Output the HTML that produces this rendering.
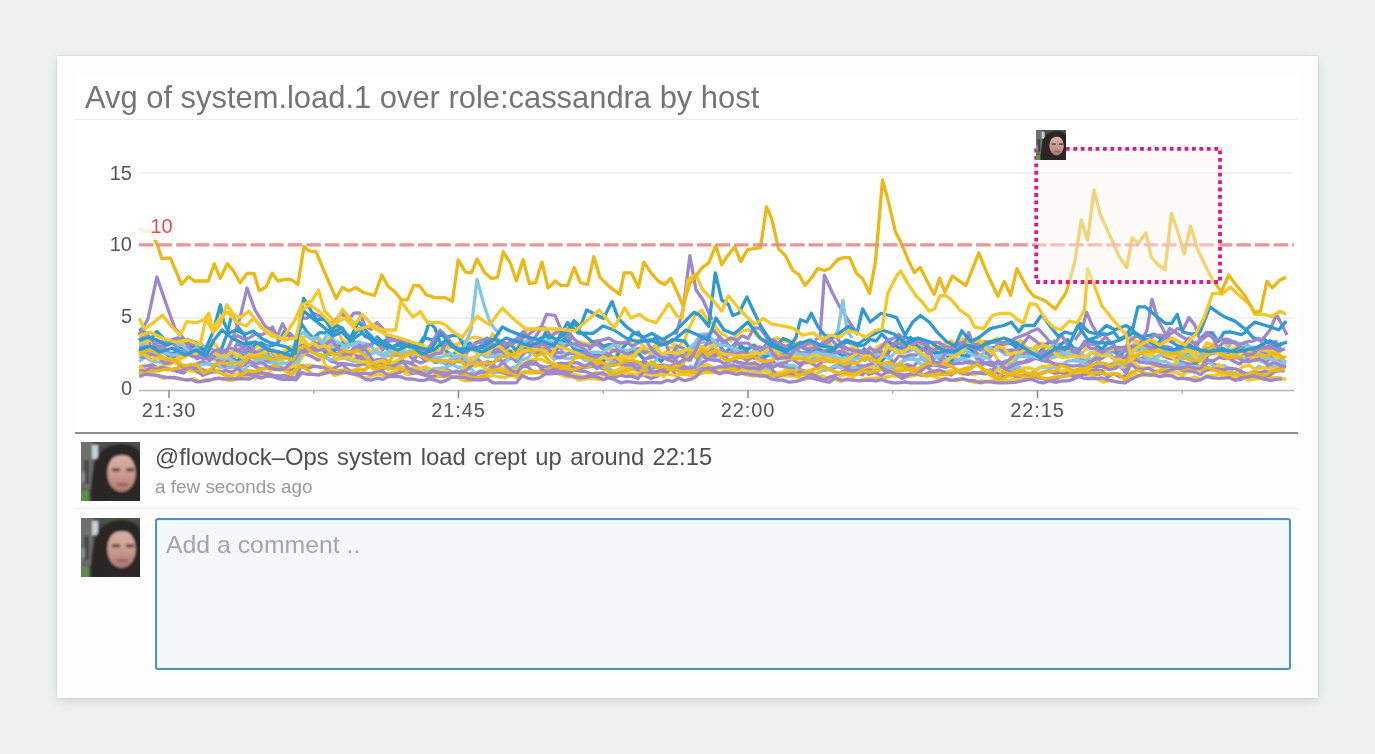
<!DOCTYPE html>
<html><head><meta charset="utf-8">
<style>
html,body{margin:0;padding:0;}
body{width:1375px;height:754px;background:#eff1f0;position:relative;overflow:hidden;font-family:"Liberation Sans",sans-serif;}
.card{position:absolute;left:57px;top:56px;width:1260.5px;height:641.5px;background:#fdfdfd;box-shadow:0 3px 10px rgba(0,0,0,0.11),0 0 2px rgba(0,0,0,0.15);}
.panel{position:absolute;left:75px;top:73px;width:1223px;height:360px;background:#fff;}
.title{position:absolute;left:85px;top:79.5px;font-size:30.9px;line-height:36px;color:#757575;white-space:nowrap;}
.hr1{position:absolute;left:75px;top:119px;width:1223px;height:1px;background:#ebebeb;}
.hr2{position:absolute;left:75px;top:432.3px;width:1223px;height:1.4px;background:#8e8e8e;}
.hr3{position:absolute;left:75px;top:508.2px;width:1223px;height:1.2px;background:#ebebeb;}
.chart{position:absolute;left:0;top:0;}
.av{position:absolute;width:59px;height:59px;}
.c1{position:absolute;left:155px;top:443px;font-size:23.8px;word-spacing:1.75px;line-height:28px;color:#505050;white-space:nowrap;}
.c2{position:absolute;left:155px;top:476px;font-size:18.9px;line-height:22px;color:#9a9a9a;white-space:nowrap;}
.ta{position:absolute;left:155.3px;top:517.5px;width:1131.4px;height:148.2px;border:2px solid #5093bf;border-radius:3px;background:#f4f8fb;box-shadow:inset 0 0 0 1px #e2f2fa;}
.ph{position:absolute;left:166px;top:531px;font-size:24.8px;line-height:28px;color:#a5a5a5;white-space:nowrap;}
.yl{font-size:20px;fill:#555;font-family:"Liberation Sans",sans-serif;}
.wrap{position:absolute;left:0;top:0;width:1375px;height:754px;filter:url(#soft);}
</style></head><body><svg width="0" height="0" style="position:absolute"><filter id="soft" x="0" y="0" width="100%" height="100%"><feGaussianBlur stdDeviation="0.55"/></filter></svg><div class="wrap">
<div class="card"></div>
<div class="panel"></div>
<div class="title">Avg of system.load.1 over role:cassandra by host</div>
<div class="hr1"></div>
<svg class="chart" width="1375" height="754">
<g stroke="#ececec" stroke-width="1.6">
<line x1="139" y1="173" x2="1294" y2="173"/>
<line x1="139" y1="318" x2="1294" y2="318"/>
</g>
<line x1="139" y1="390.5" x2="1294" y2="390.5" stroke="#b5b5b5" stroke-width="1.5"/>
<g stroke="#8a8a8a" stroke-width="1.5">
<line x1="169" y1="390" x2="169" y2="398"/>
<line x1="458.5" y1="390" x2="458.5" y2="398"/>
<line x1="748" y1="390" x2="748" y2="398"/>
<line x1="1037.5" y1="390" x2="1037.5" y2="398"/>
</g>
<g stroke="#a8a8a8" stroke-width="1.4">
<line x1="313.7" y1="390" x2="313.7" y2="393.5"/>
<line x1="603.2" y1="390" x2="603.2" y2="393.5"/>
<line x1="892.7" y1="390" x2="892.7" y2="393.5"/>
<line x1="1182.2" y1="390" x2="1182.2" y2="393.5"/>
</g>
<g class="yl" text-anchor="end">
<text x="132" y="180">15</text>
<text x="132" y="251">10</text>
<text x="132" y="323">5</text>
<text x="132" y="395">0</text>
</g>
<g class="yl" text-anchor="middle" letter-spacing="0.9">
<text x="169" y="417">21:30</text>
<text x="458.5" y="417">21:45</text>
<text x="748" y="417">22:00</text>
<text x="1037.5" y="417">22:15</text>
</g>
<polyline points="139.1,366.8 145.5,366.0 151.9,364.8 158.3,367.7 164.7,368.0 171.1,369.4 177.5,371.6 183.9,373.1 190.3,367.7 196.7,363.7 203.1,361.6 209.5,364.7 215.9,365.2 222.3,367.4 228.7,367.4 235.1,366.6 241.5,366.3 247.9,362.7 254.3,366.4 260.7,369.0 267.1,368.0 273.5,369.3 279.9,367.4 286.3,369.1 292.7,367.1 299.1,354.1 305.5,353.9 311.9,356.5 318.3,360.2 324.7,356.4 331.1,361.1 337.5,363.3 343.9,363.6 350.3,364.6 356.7,365.9 363.1,363.9 369.5,365.0 375.9,367.0 382.3,368.6 388.7,368.1 395.1,368.4 401.5,362.4 407.9,362.2 414.3,365.4 420.7,369.7 427.1,368.4 433.5,371.7 439.9,370.7 446.3,369.3 452.7,372.3 459.1,372.9 465.5,375.9 471.9,373.3 478.3,373.0 484.7,372.4 491.1,367.2 497.5,371.4 503.9,370.6 510.3,369.3 516.7,371.1 523.1,365.5 529.5,364.2 535.9,363.9 542.3,366.7 548.7,367.1 555.1,364.2 561.5,363.2 567.9,364.6 574.3,368.0 580.7,368.3 587.1,367.2 593.5,366.2 599.9,367.7 606.3,369.6 612.7,370.9 619.1,373.2 625.5,371.7 631.9,375.3 638.3,374.5 644.7,375.7 651.1,378.5 657.5,375.9 663.9,371.4 670.3,369.6 676.7,369.5 683.1,370.3 689.5,370.7 695.9,373.3 702.3,362.5 708.7,359.0 715.1,356.2 721.5,353.1 727.9,359.9 734.3,365.5 740.7,366.9 747.1,365.7 753.5,363.3 759.9,365.5 766.3,363.2 772.7,361.4 779.1,365.9 785.5,367.0 791.9,369.3 798.3,369.2 804.7,371.1 811.1,370.4 817.5,367.5 823.9,370.3 830.3,369.0 836.7,366.9 843.1,364.4 849.5,367.4 855.9,369.4 862.3,368.1 868.7,374.5 875.1,372.5 881.5,368.4 887.9,366.1 894.3,369.3 900.7,370.2 907.1,365.7 913.5,369.3 919.9,368.6 926.3,366.7 932.7,371.3 939.1,371.6 945.5,372.4 951.9,372.1 958.3,371.1 964.7,373.5 971.1,373.4 977.5,373.1 983.9,373.7 990.3,369.8 996.7,372.7 1003.1,376.5 1009.5,375.6 1015.9,367.0 1022.3,369.7 1028.7,376.5 1035.1,375.8 1041.5,373.1 1047.9,370.7 1054.3,373.3 1060.7,372.3 1067.1,374.3 1073.5,373.7 1079.9,370.8 1086.3,374.8 1092.7,373.8 1099.1,374.3 1105.5,367.3 1111.9,364.0 1118.3,362.8 1124.7,371.7 1131.1,361.4 1137.5,360.1 1143.9,357.2 1150.3,362.4 1156.7,363.2 1163.1,365.5 1169.5,365.4 1175.9,365.0 1182.3,367.0 1188.7,371.7 1195.1,368.1 1201.5,369.7 1207.9,361.4 1214.3,364.2 1220.7,367.5 1227.1,372.2 1233.5,375.3 1239.9,379.8 1246.3,377.7 1252.7,376.9 1259.1,372.5 1265.5,371.3 1271.9,372.8 1278.3,370.6 1284.7,370.8" fill="none" stroke="#9e88ca" stroke-width="3.3" stroke-linejoin="round"/>
<polyline points="139.1,352.3 145.5,348.4 151.9,341.0 158.3,346.9 164.7,346.4 171.1,343.6 177.5,341.0 183.9,340.6 190.3,351.1 196.7,353.6 203.1,358.9 209.5,358.2 215.9,359.8 222.3,361.3 228.7,359.6 235.1,354.4 241.5,358.7 247.9,357.0 254.3,351.4 260.7,356.4 267.1,354.0 273.5,360.2 279.9,369.4 286.3,369.6 292.7,369.9 299.1,353.5 305.5,353.2 311.9,347.8 318.3,345.6 324.7,347.9 331.1,350.0 337.5,349.0 343.9,354.0 350.3,351.2 356.7,355.9 363.1,356.5 369.5,354.1 375.9,351.7 382.3,355.5 388.7,355.6 395.1,355.2 401.5,355.0 407.9,354.0 414.3,360.5 420.7,362.9 427.1,360.2 433.5,356.8 439.9,360.7 446.3,364.2 452.7,356.6 459.1,361.4 465.5,362.8 471.9,358.0 478.3,359.5 484.7,365.6 491.1,363.4 497.5,368.0 503.9,361.1 510.3,358.4 516.7,355.1 523.1,347.5 529.5,352.2 535.9,352.7 542.3,352.5 548.7,350.3 555.1,352.9 561.5,352.1 567.9,354.3 574.3,350.0 580.7,351.5 587.1,351.0 593.5,354.0 599.9,353.8 606.3,355.2 612.7,360.1 619.1,357.9 625.5,361.6 631.9,362.6 638.3,363.1 644.7,362.3 651.1,368.8 657.5,366.0 663.9,365.0 670.3,366.7 676.7,376.3 683.1,371.1 689.5,375.2 695.9,371.8 702.3,352.1 708.7,357.5 715.1,354.5 721.5,354.2 727.9,355.6 734.3,350.2 740.7,356.6 747.1,360.7 753.5,356.6 759.9,356.8 766.3,360.5 772.7,366.5 779.1,364.8 785.5,363.8 791.9,368.5 798.3,368.1 804.7,361.6 811.1,358.0 817.5,357.5 823.9,354.9 830.3,355.0 836.7,361.3 843.1,364.5 849.5,371.8 855.9,372.8 862.3,375.0 868.7,368.5 875.1,369.7 881.5,369.4 887.9,372.1 894.3,365.5 900.7,366.5 907.1,364.7 913.5,366.6 919.9,358.6 926.3,359.2 932.7,364.3 939.1,365.8 945.5,367.4 951.9,364.9 958.3,360.9 964.7,356.1 971.1,350.1 977.5,359.6 983.9,363.7 990.3,363.8 996.7,364.0 1003.1,363.4 1009.5,362.9 1015.9,365.2 1022.3,362.8 1028.7,361.6 1035.1,358.3 1041.5,360.3 1047.9,361.7 1054.3,353.6 1060.7,346.3 1067.1,351.0 1073.5,355.1 1079.9,358.7 1086.3,364.5 1092.7,367.8 1099.1,359.9 1105.5,355.3 1111.9,351.3 1118.3,354.4 1124.7,358.5 1131.1,348.9 1137.5,348.0 1143.9,344.2 1150.3,345.5 1156.7,347.9 1163.1,355.9 1169.5,358.6 1175.9,359.0 1182.3,362.4 1188.7,363.7 1195.1,364.1 1201.5,367.7 1207.9,354.4 1214.3,353.3 1220.7,354.2 1227.1,356.9 1233.5,361.2 1239.9,363.9 1246.3,358.6 1252.7,357.7 1259.1,360.1 1265.5,362.2 1271.9,357.3 1278.3,359.7 1284.7,362.8" fill="none" stroke="#9e88ca" stroke-width="3.3" stroke-linejoin="round"/>
<polyline points="139.1,361.6 144.9,357.2 150.7,360.6 156.5,361.8 162.3,362.3 168.1,360.3 173.9,362.0 179.7,364.9 185.5,366.3 191.3,370.5 197.1,365.8 202.9,364.2 208.7,364.1 214.5,364.2 220.3,366.9 226.1,368.1 231.9,365.5 237.7,368.3 243.5,370.2 249.3,364.6 255.1,360.8 260.9,361.8 266.7,361.9 272.5,362.9 278.3,360.0 284.1,363.4 289.9,364.3 295.7,363.7 301.5,347.4 307.3,350.6 313.1,351.7 318.9,354.7 324.7,357.4 330.5,359.5 336.3,359.0 342.1,356.4 347.9,359.4 353.7,361.4 359.5,362.4 365.3,361.0 371.1,359.2 376.9,363.8 382.7,362.5 388.5,365.7 394.3,363.1 400.1,366.4 405.9,369.2 411.7,370.2 417.5,369.2 423.3,371.4 429.1,369.6 434.9,368.6 440.7,368.3 446.5,367.1 452.3,364.6 458.1,367.5 463.9,367.3 469.7,367.4 475.5,373.3 481.3,370.3 487.1,371.6 492.9,372.3 498.7,372.0 504.5,370.3 510.3,368.4 516.1,366.6 521.9,359.9 527.7,357.9 533.5,351.6 539.3,345.1 545.1,352.2 550.9,354.7 556.7,358.2 562.5,357.5 568.3,358.9 574.1,357.0 579.9,352.7 585.7,355.0 591.5,362.6 597.3,358.5 603.1,362.4 608.9,367.6 614.7,374.3 620.5,371.0 626.3,366.9 632.1,364.3 637.9,366.2 643.7,362.3 649.5,364.0 655.3,366.6 661.1,366.6 666.9,366.1 672.7,366.3 678.5,365.4 684.3,372.2 690.1,366.1 695.9,368.1 701.7,356.0 707.5,359.3 713.3,359.0 719.1,360.0 724.9,365.0 730.7,363.0 736.5,361.0 742.3,364.9 748.1,370.7 753.9,370.7 759.7,371.5 765.5,369.5 771.3,368.7 777.1,363.5 782.9,363.0 788.7,365.4 794.5,365.5 800.3,374.3 806.1,374.8 811.9,375.1 817.7,373.1 823.5,370.3 829.3,368.8 835.1,365.5 840.9,368.0 846.7,366.9 852.5,367.3 858.3,367.2 864.1,366.2 869.9,367.3 875.7,366.6 881.5,366.9 887.3,364.0 893.1,365.2 898.9,364.9 904.7,358.1 910.5,359.0 916.3,359.9 922.1,359.0 927.9,364.3 933.7,363.1 939.5,362.1 945.3,362.4 951.1,361.0 956.9,360.5 962.7,359.1 968.5,363.3 974.3,363.2 980.1,366.0 985.9,362.7 991.7,363.6 997.5,368.4 1003.3,367.7 1009.1,370.4 1014.9,366.6 1020.7,367.7 1026.5,373.9 1032.3,372.9 1038.1,368.2 1043.9,366.9 1049.7,368.8 1055.5,366.4 1061.3,365.0 1067.1,361.4 1072.9,360.5 1078.7,361.4 1084.5,365.4 1090.3,365.1 1096.1,364.8 1101.9,365.5 1107.7,364.7 1113.5,368.9 1119.3,366.7 1125.1,366.8 1130.9,357.2 1136.7,358.6 1142.5,360.4 1148.3,360.2 1154.1,358.8 1159.9,361.2 1165.7,361.3 1171.5,364.7 1177.3,363.9 1183.1,364.7 1188.9,369.2 1194.7,365.5 1200.5,369.0 1206.3,360.5 1212.1,364.7 1217.9,369.1 1223.7,365.5 1229.5,369.2 1235.3,373.9 1241.1,372.1 1246.9,374.8 1252.7,373.2 1258.5,366.4 1264.3,368.2 1270.1,366.9 1275.9,365.4 1281.7,365.2" fill="none" stroke="#85c5e6" stroke-width="3.3" stroke-linejoin="round"/>
<polyline points="139.1,365.7 145.2,369.8 151.3,368.1 157.4,367.7 163.5,365.9 169.6,364.5 175.7,361.2 181.8,368.8 187.9,370.4 194.0,371.4 200.1,373.3 206.2,371.0 212.3,370.8 218.4,369.9 224.5,374.3 230.6,375.5 236.7,373.8 242.8,373.7 248.9,374.1 255.0,372.9 261.1,372.6 267.2,374.6 273.3,368.2 279.4,370.4 285.5,368.2 291.6,366.8 297.7,364.7 303.8,354.4 309.9,348.8 316.0,354.2 322.1,358.4 328.2,369.5 334.3,375.5 340.4,373.8 346.5,372.3 352.6,370.9 358.7,368.2 364.8,370.3 370.9,361.5 377.0,360.5 383.1,358.7 389.2,360.5 395.3,368.5 401.4,367.7 407.5,369.4 413.6,367.9 419.7,368.5 425.8,366.8 431.9,370.1 438.0,371.1 444.1,370.5 450.2,372.3 456.3,372.7 462.4,369.9 468.5,364.1 474.6,366.3 480.7,364.8 486.8,369.3 492.9,370.6 499.0,369.2 505.1,367.6 511.2,371.0 517.3,368.7 523.4,363.6 529.5,360.4 535.6,359.2 541.7,359.6 547.8,362.7 553.9,363.1 560.0,366.6 566.1,369.0 572.2,373.8 578.3,375.6 584.4,376.9 590.5,374.5 596.6,372.4 602.7,375.1 608.8,373.5 614.9,371.0 621.0,367.9 627.1,368.7 633.2,368.3 639.3,369.7 645.4,366.9 651.5,372.0 657.6,370.5 663.7,376.7 669.8,369.6 675.9,366.8 682.0,373.5 688.1,373.7 694.2,376.4 700.3,373.7 706.4,372.2 712.5,372.6 718.6,367.6 724.7,368.6 730.8,371.1 736.9,370.1 743.0,368.0 749.1,365.6 755.2,364.8 761.3,370.1 767.4,372.1 773.5,371.7 779.6,373.4 785.7,370.2 791.8,371.1 797.9,370.8 804.0,371.4 810.1,370.6 816.2,374.5 822.3,366.9 828.4,369.3 834.5,371.3 840.6,375.8 846.7,374.1 852.8,376.6 858.9,373.5 865.0,368.8 871.1,367.2 877.2,369.1 883.3,365.5 889.4,367.2 895.5,368.0 901.6,368.2 907.7,369.9 913.8,368.5 919.9,372.3 926.0,376.4 932.1,370.9 938.2,372.5 944.3,372.5 950.4,370.6 956.5,371.6 962.6,374.2 968.7,373.3 974.8,374.8 980.9,371.6 987.0,372.2 993.1,372.1 999.2,369.0 1005.3,373.5 1011.4,376.5 1017.5,372.3 1023.6,367.8 1029.7,368.0 1035.8,370.4 1041.9,366.6 1048.0,365.9 1054.1,364.0 1060.2,370.8 1066.3,370.7 1072.4,373.2 1078.5,375.2 1084.6,371.8 1090.7,369.0 1096.8,370.4 1102.9,370.8 1109.0,366.4 1115.1,365.4 1121.2,366.9 1127.3,366.2 1133.4,362.2 1139.5,367.0 1145.6,368.3 1151.7,367.1 1157.8,365.4 1163.9,369.5 1170.0,371.4 1176.1,372.3 1182.2,375.6 1188.3,370.6 1194.4,369.1 1200.5,365.7 1206.6,368.8 1212.7,370.4 1218.8,364.2 1224.9,369.2 1231.0,374.0 1237.1,371.7 1243.2,366.3 1249.3,365.4 1255.4,369.4 1261.5,368.0 1267.6,367.4 1273.7,367.2 1279.8,366.7 1285.9,365.2" fill="none" stroke="#f3c829" stroke-width="3.3" stroke-linejoin="round"/>
<polyline points="139.4,342.7 145.5,342.4 151.6,350.6 157.7,341.4 163.8,348.8 169.9,356.9 176.0,362.8 182.1,358.1 188.2,355.3 194.3,352.2 200.4,351.6 206.5,351.0 212.6,340.7 218.7,349.0 224.8,357.9 230.9,354.9 237.0,352.4 243.1,356.5 249.2,356.6 255.3,351.6 261.4,348.4 267.5,354.2 273.6,349.6 279.7,361.1 285.8,358.5 291.9,355.5 298.0,355.4 304.1,340.2 310.2,347.0 316.3,346.1 322.4,343.1 328.5,346.9 334.6,345.5 340.7,345.9 346.8,354.7 352.9,354.5 359.0,349.8 365.1,355.2 371.2,352.9 377.3,350.3 383.4,355.0 389.5,354.4 395.6,349.6 401.7,347.2 407.8,352.5 413.9,348.3 420.0,348.3 426.1,349.4 432.2,344.8 438.3,344.9 444.4,346.1 450.5,344.5 456.6,344.5 462.7,342.1 468.8,338.7 474.9,337.0 481.0,338.5 487.1,342.2 493.2,346.7 499.3,348.5 505.4,350.4 511.5,350.9 517.6,355.4 523.7,342.2 529.8,342.9 535.9,347.8 542.0,346.4 548.1,348.0 554.2,348.1 560.3,346.0 566.4,336.2 572.5,344.4 578.6,344.5 584.7,343.5 590.8,344.1 596.9,340.5 603.0,345.7 609.1,349.2 615.2,350.5 621.3,357.0 627.4,351.8 633.5,357.4 639.6,354.0 645.7,349.1 651.8,353.7 657.9,354.3 664.0,354.9 670.1,347.5 676.2,348.3 682.3,356.8 688.4,351.5 694.5,347.9 700.6,346.6 706.7,357.0 712.8,343.1 718.9,343.8 725.0,353.3 731.1,347.5 737.2,342.1 743.3,353.9 749.4,347.6 755.5,345.8 761.6,347.6 767.7,351.9 773.8,350.7 779.9,354.9 786.0,354.2 792.1,355.3 798.2,356.5 804.3,353.4 810.4,349.5 816.5,347.1 822.6,347.2 828.7,342.3 834.8,350.7 840.9,351.2 847.0,351.1 853.1,346.9 859.2,357.9 865.3,358.3 871.4,358.1 877.5,355.9 883.6,346.1 889.7,347.3 895.8,349.5 901.9,349.0 908.0,346.3 914.1,349.2 920.2,343.7 926.3,351.5 932.4,347.0 938.5,346.1 944.6,344.3 950.7,340.8 956.8,345.5 962.9,346.2 969.0,347.3 975.1,351.6 981.2,355.2 987.3,357.8 993.4,353.0 999.5,362.3 1005.6,364.8 1011.7,361.1 1017.8,353.5 1023.9,353.9 1030.0,348.7 1036.1,350.3 1042.2,353.4 1048.3,359.7 1054.4,357.0 1060.5,349.0 1066.6,349.9 1072.7,355.1 1078.8,352.3 1084.9,358.1 1091.0,361.3 1097.1,354.4 1103.2,352.5 1109.3,348.8 1115.4,349.2 1121.5,351.0 1127.6,351.0 1133.7,343.9 1139.8,340.6 1145.9,348.0 1152.0,355.8 1158.1,357.4 1164.2,351.7 1170.3,353.7 1176.4,362.5 1182.5,348.2 1188.6,353.6 1194.7,354.7 1200.8,352.5 1206.9,342.9 1213.0,345.1 1219.1,352.5 1225.2,349.5 1231.3,353.8 1237.4,353.8 1243.5,350.3 1249.6,352.7 1255.7,360.4 1261.8,361.2 1267.9,356.7 1274.0,352.8 1280.1,358.2 1286.2,356.6" fill="none" stroke="#f3c829" stroke-width="3.3" stroke-linejoin="round"/>
<polyline points="139.1,344.5 144.9,341.3 150.7,340.1 156.5,346.0 162.3,344.3 168.1,342.9 173.9,343.8 179.7,343.6 185.5,344.6 191.3,342.8 197.1,342.7 202.9,351.0 208.7,357.8 214.5,359.7 220.3,349.0 226.1,352.9 231.9,356.0 237.7,356.7 243.5,350.7 249.3,352.2 255.1,347.5 260.9,344.2 266.7,347.4 272.5,353.1 278.3,354.4 284.1,358.0 289.9,350.6 295.7,349.0 301.5,338.8 307.3,335.0 313.1,340.7 318.9,337.5 324.7,343.9 330.5,336.9 336.3,327.1 342.1,339.9 347.9,343.2 353.7,346.0 359.5,345.2 365.3,347.7 371.1,351.4 376.9,349.6 382.7,341.9 388.5,351.7 394.3,351.1 400.1,352.4 405.9,353.5 411.7,349.2 417.5,352.0 423.3,349.6 429.1,346.4 434.9,349.7 440.7,352.4 446.5,355.3 452.3,357.7 458.1,350.4 463.9,346.1 469.7,348.0 475.5,351.6 481.3,353.6 487.1,343.7 492.9,333.8 498.7,341.0 504.5,346.6 510.3,351.3 516.1,350.8 521.9,337.1 527.7,328.8 533.5,329.8 539.3,328.7 545.1,328.8 550.9,334.4 556.7,332.2 562.5,335.0 568.3,342.3 574.1,344.8 579.9,341.8 585.7,343.7 591.5,344.1 597.3,342.1 603.1,346.6 608.9,347.8 614.7,350.1 620.5,344.0 626.3,343.9 632.1,341.0 637.9,340.1 643.7,346.7 649.5,353.9 655.3,351.5 661.1,343.6 666.9,340.8 672.7,343.7 678.5,346.9 684.3,339.9 690.1,326.1 695.9,314.1 701.7,310.4 707.5,319.6 713.3,323.9 719.1,331.5 724.9,335.2 730.7,341.1 736.5,335.3 742.3,330.8 748.1,329.9 753.9,331.7 759.7,338.4 765.5,341.9 771.3,339.7 777.1,337.7 782.9,341.0 788.7,342.0 794.5,343.2 800.3,342.7 806.1,343.8 811.9,345.9 817.7,357.4 823.5,358.5 829.3,352.7 835.1,347.1 840.9,345.4 846.7,341.1 852.5,345.1 858.3,349.8 864.1,354.5 869.9,354.4 875.7,348.7 881.5,344.7 887.3,343.7 893.1,343.4 898.9,341.9 904.7,345.1 910.5,347.2 916.3,351.0 922.1,355.4 927.9,354.7 933.7,351.2 939.5,351.8 945.3,346.2 951.1,346.1 956.9,347.8 962.7,338.8 968.5,349.8 974.3,345.0 980.1,341.1 985.9,341.9 991.7,341.1 997.5,338.1 1003.3,345.7 1009.1,343.0 1014.9,342.8 1020.7,340.5 1026.5,347.6 1032.3,349.6 1038.1,343.9 1043.9,343.3 1049.7,350.5 1055.5,349.8 1061.3,346.6 1067.1,350.3 1072.9,353.0 1078.7,357.1 1084.5,350.5 1090.3,344.9 1096.1,342.4 1101.9,354.3 1107.7,349.5 1113.5,348.5 1119.3,353.0 1125.1,351.1 1130.9,337.4 1136.7,342.8 1142.5,347.9 1148.3,346.6 1154.1,340.8 1159.9,345.3 1165.7,352.2 1171.5,353.9 1177.3,351.3 1183.1,345.5 1188.9,350.4 1194.7,351.7 1200.5,356.2 1206.3,348.0 1212.1,347.3 1217.9,340.4 1223.7,340.6 1229.5,350.1 1235.3,347.8 1241.1,343.6 1246.9,348.4 1252.7,353.0 1258.5,355.4 1264.3,350.3 1270.1,348.4 1275.9,351.8 1281.7,351.2" fill="none" stroke="#f3c829" stroke-width="3.3" stroke-linejoin="round"/>
<polyline points="139.4,328.6 145.2,332.3 151.0,338.7 156.8,331.4 162.6,337.4 168.4,343.3 174.2,339.8 180.0,347.1 185.8,350.5 191.6,342.6 197.4,350.9 203.2,349.8 209.0,355.1 214.8,357.8 220.6,351.3 226.4,335.7 232.2,313.8 238.0,326.8 243.8,334.5 249.6,350.7 255.4,343.7 261.2,342.8 267.0,346.0 272.8,345.6 278.6,342.0 284.4,331.2 290.2,333.5 296.0,339.9 301.8,324.1 307.6,332.8 313.4,338.2 319.2,332.7 325.0,333.0 330.8,330.2 336.6,325.3 342.4,328.4 348.2,337.8 354.0,341.7 359.8,345.8 365.6,344.0 371.4,345.5 377.2,336.9 383.0,342.6 388.8,337.9 394.6,339.0 400.4,345.3 406.2,345.4 412.0,346.6 417.8,346.7 423.6,337.5 429.4,339.1 435.2,340.1 441.0,334.3 446.8,337.0 452.6,335.6 458.4,335.5 464.2,346.3 470.0,343.0 475.8,349.4 481.6,347.5 487.4,338.8 493.2,339.6 499.0,340.8 504.8,348.7 510.6,344.6 516.4,350.5 522.2,341.3 528.0,349.1 533.8,346.6 539.6,344.9 545.4,332.8 551.2,344.2 557.0,342.6 562.8,340.5 568.6,334.6 574.4,321.8 580.2,332.1 586.0,336.4 591.8,341.7 597.6,342.1 603.4,346.4 609.2,344.3 615.0,345.3 620.8,350.1 626.6,343.3 632.4,334.4 638.2,332.2 644.0,340.7 649.8,341.2 655.6,338.0 661.4,344.9 667.2,343.7 673.0,339.3 678.8,340.4 684.6,341.2 690.4,349.7 696.2,344.0 702.0,339.1 707.8,337.8 713.6,347.2 719.4,337.6 725.2,342.2 731.0,347.5 736.8,342.1 742.6,347.2 748.4,353.8 754.2,351.7 760.0,354.2 765.8,349.8 771.6,344.6 777.4,345.0 783.2,338.5 789.0,340.8 794.8,345.4 800.6,354.2 806.4,353.5 812.2,352.6 818.0,349.0 823.8,351.5 829.6,352.5 835.4,348.1 841.2,344.4 847.0,342.2 852.8,343.2 858.6,345.9 864.4,344.9 870.2,339.3 876.0,341.0 881.8,334.0 887.6,339.8 893.4,346.5 899.2,336.9 905.0,337.3 910.8,338.6 916.6,339.1 922.4,341.1 928.2,348.7 934.0,352.5 939.8,358.8 945.6,353.7 951.4,361.2 957.2,353.5 963.0,355.6 968.8,356.3 974.6,350.8 980.4,345.0 986.2,353.3 992.0,347.9 997.8,346.8 1003.6,342.6 1009.4,342.9 1015.2,345.4 1021.0,348.7 1026.8,348.6 1032.6,350.9 1038.4,354.7 1044.2,345.8 1050.0,341.6 1055.8,346.3 1061.6,343.9 1067.4,339.5 1073.2,347.7 1079.0,349.7 1084.8,342.0 1090.6,339.1 1096.4,337.2 1102.2,334.0 1108.0,334.3 1113.8,332.0 1119.6,339.5 1125.4,336.0 1131.2,328.1 1137.0,336.3 1142.8,336.4 1148.6,335.5 1154.4,334.2 1160.2,338.3 1166.0,339.2 1171.8,342.1 1177.6,345.9 1183.4,346.3 1189.2,344.3 1195.0,348.6 1200.8,338.1 1206.6,332.6 1212.4,332.8 1218.2,341.6 1224.0,332.5 1229.8,331.9 1235.6,333.2 1241.4,334.7 1247.2,331.1 1253.0,337.6 1258.8,339.9 1264.6,339.5 1270.4,344.6 1276.2,346.9 1282.0,351.3" fill="none" stroke="#2e9ad0" stroke-width="3.3" stroke-linejoin="round"/>
<polyline points="139.4,375.4 145.5,373.7 151.6,373.0 157.7,375.8 163.8,378.4 169.9,377.1 176.0,378.4 182.1,379.3 188.2,379.6 194.3,378.7 200.4,381.9 206.5,379.6 212.6,379.9 218.7,377.8 224.8,379.7 230.9,380.6 237.0,379.0 243.1,377.1 249.2,377.4 255.3,378.1 261.4,375.9 267.5,374.7 273.6,375.2 279.7,376.4 285.8,374.8 291.9,374.6 298.0,366.8 304.1,365.3 310.2,365.0 316.3,366.4 322.4,367.0 328.5,367.1 334.6,369.3 340.7,372.2 346.8,370.4 352.9,373.9 359.0,376.3 365.1,378.0 371.2,376.1 377.3,373.9 383.4,375.4 389.5,373.3 395.6,371.4 401.7,370.6 407.8,374.6 413.9,373.2 420.0,370.7 426.1,374.4 432.2,378.3 438.3,376.3 444.4,376.0 450.5,376.6 456.6,377.1 462.7,380.2 468.8,380.9 474.9,379.7 481.0,378.4 487.1,376.7 493.2,375.5 499.3,377.0 505.4,377.4 511.5,375.2 517.6,378.3 523.7,371.3 529.8,373.2 535.9,372.9 542.0,370.1 548.1,370.6 554.2,372.5 560.3,374.4 566.4,376.9 572.5,376.5 578.6,380.1 584.7,379.1 590.8,378.1 596.9,379.2 603.0,379.9 609.1,377.2 615.2,375.4 621.3,372.8 627.4,372.6 633.5,373.8 639.6,375.4 645.7,374.1 651.8,374.1 657.9,375.0 664.0,372.9 670.1,374.6 676.2,375.3 682.3,374.3 688.4,374.6 694.5,375.4 700.6,367.5 706.7,364.4 712.8,367.5 718.9,368.2 725.0,369.2 731.1,370.5 737.2,369.0 743.3,371.1 749.4,369.7 755.5,373.3 761.6,374.1 767.7,376.4 773.8,376.2 779.9,375.7 786.0,375.7 792.1,376.2 798.2,377.1 804.3,379.4 810.4,377.5 816.5,377.6 822.6,375.8 828.7,379.2 834.8,379.2 840.9,381.7 847.0,378.7 853.1,379.7 859.2,380.9 865.3,378.5 871.4,378.5 877.5,377.9 883.6,378.1 889.7,376.2 895.8,376.2 901.9,376.3 908.0,376.8 914.1,375.5 920.2,374.4 926.3,376.0 932.4,375.2 938.5,378.5 944.6,379.7 950.7,380.0 956.8,380.6 962.9,378.9 969.0,380.9 975.1,382.6 981.2,380.9 987.3,381.5 993.4,380.3 999.5,379.5 1005.6,380.1 1011.7,380.2 1017.8,378.1 1023.9,378.0 1030.0,377.9 1036.1,376.8 1042.2,378.4 1048.3,380.3 1054.4,380.2 1060.5,376.8 1066.6,376.1 1072.7,372.9 1078.8,372.8 1084.9,372.8 1091.0,375.2 1097.1,378.8 1103.2,382.1 1109.3,380.6 1115.4,381.7 1121.5,382.5 1127.6,380.2 1133.7,373.3 1139.8,375.7 1145.9,374.9 1152.0,372.6 1158.1,371.9 1164.2,374.4 1170.3,373.5 1176.4,377.9 1182.5,378.3 1188.6,379.0 1194.7,376.9 1200.8,379.6 1206.9,375.4 1213.0,375.7 1219.1,374.3 1225.2,377.0 1231.3,376.4 1237.4,377.1 1243.5,377.9 1249.6,380.1 1255.7,378.9 1261.8,378.7 1267.9,377.9 1274.0,377.7 1280.1,377.9 1286.2,379.4" fill="none" stroke="#f3c829" stroke-width="3.3" stroke-linejoin="round"/>
<polyline points="139.1,370.3 144.9,371.4 150.7,367.6 156.5,369.5 162.3,367.4 168.1,369.6 173.9,369.8 179.7,371.0 185.5,369.1 191.3,367.2 197.1,371.0 202.9,375.3 208.7,372.9 214.5,371.7 220.3,371.9 226.1,370.7 231.9,372.4 237.7,368.3 243.5,374.5 249.3,374.0 255.1,374.7 260.9,372.7 266.7,373.7 272.5,375.4 278.3,376.2 284.1,375.7 289.9,377.3 295.7,378.0 301.5,365.4 307.3,368.9 313.1,366.3 318.9,366.8 324.7,367.9 330.5,370.7 336.3,367.0 342.1,364.3 347.9,369.5 353.7,372.8 359.5,373.4 365.3,373.4 371.1,374.0 376.9,370.9 382.7,371.4 388.5,375.8 394.3,374.3 400.1,372.2 405.9,369.0 411.7,373.1 417.5,373.2 423.3,374.9 429.1,376.3 434.9,375.9 440.7,372.6 446.5,373.2 452.3,372.7 458.1,371.8 463.9,371.2 469.7,375.5 475.5,374.9 481.3,371.8 487.1,372.6 492.9,370.1 498.7,371.4 504.5,373.1 510.3,374.8 516.1,374.5 521.9,366.3 527.7,366.8 533.5,371.7 539.3,372.3 545.1,371.2 550.9,370.6 556.7,370.4 562.5,370.2 568.3,372.9 574.1,370.1 579.9,371.0 585.7,371.6 591.5,374.1 597.3,373.9 603.1,372.7 608.9,377.5 614.7,377.2 620.5,375.2 626.3,376.7 632.1,376.1 637.9,378.7 643.7,371.2 649.5,372.1 655.3,372.3 661.1,370.6 666.9,372.1 672.7,367.3 678.5,369.3 684.3,367.9 690.1,370.9 695.9,372.0 701.7,368.9 707.5,368.6 713.3,368.5 719.1,366.6 724.9,367.1 730.7,365.9 736.5,369.1 742.3,366.4 748.1,368.1 753.9,367.8 759.7,369.1 765.5,365.8 771.3,367.9 777.1,377.0 782.9,374.5 788.7,373.4 794.5,374.1 800.3,371.8 806.1,373.3 811.9,374.4 817.7,376.8 823.5,380.2 829.3,377.2 835.1,375.6 840.9,372.5 846.7,369.4 852.5,370.8 858.3,370.3 864.1,370.9 869.9,370.1 875.7,372.9 881.5,375.4 887.3,372.3 893.1,370.5 898.9,374.1 904.7,374.8 910.5,374.1 916.3,374.0 922.1,375.5 927.9,372.9 933.7,371.4 939.5,369.9 945.3,373.0 951.1,375.2 956.9,371.0 962.7,373.3 968.5,374.3 974.3,372.3 980.1,373.0 985.9,373.8 991.7,372.1 997.5,362.4 1003.3,367.4 1009.1,371.8 1014.9,376.2 1020.7,376.0 1026.5,374.8 1032.3,375.0 1038.1,377.8 1043.9,378.6 1049.7,379.8 1055.5,378.6 1061.3,376.4 1067.1,373.1 1072.9,376.4 1078.7,375.6 1084.5,374.5 1090.3,371.5 1096.1,369.7 1101.9,370.9 1107.7,377.0 1113.5,373.6 1119.3,376.9 1125.1,375.9 1130.9,364.1 1136.7,368.7 1142.5,369.3 1148.3,368.2 1154.1,370.9 1159.9,371.2 1165.7,372.1 1171.5,369.6 1177.3,368.3 1183.1,370.9 1188.9,370.0 1194.7,372.1 1200.5,374.6 1206.3,370.0 1212.1,369.0 1217.9,369.2 1223.7,369.8 1229.5,368.1 1235.3,368.8 1241.1,371.3 1246.9,374.3 1252.7,372.0 1258.5,372.9 1264.3,376.4 1270.1,375.2 1275.9,370.1 1281.7,368.6" fill="none" stroke="#9e88ca" stroke-width="3.3" stroke-linejoin="round"/>
<polyline points="139.2,348.0 145.0,349.5 150.8,347.6 156.6,349.7 162.4,349.3 168.2,355.8 174.0,352.6 179.8,355.8 185.6,349.9 191.4,347.2 197.2,349.0 203.0,356.4 208.8,356.0 214.6,357.4 220.4,353.1 226.2,359.9 232.0,358.3 237.8,361.7 243.6,353.3 249.4,350.4 255.2,354.3 261.0,358.6 266.8,353.5 272.6,360.3 278.4,353.9 284.2,352.8 290.0,349.9 295.8,352.7 301.6,349.8 307.4,348.0 313.2,345.1 319.0,342.8 324.8,352.2 330.6,354.4 336.4,349.0 342.2,342.7 348.0,347.6 353.8,335.3 359.6,328.4 365.4,336.9 371.2,336.8 377.0,343.9 382.8,346.8 388.6,348.6 394.4,345.9 400.2,344.9 406.0,343.2 411.8,343.5 417.6,349.0 423.4,340.6 429.2,322.2 435.0,328.1 440.8,344.8 446.6,351.4 452.4,355.5 458.2,350.1 464.0,348.0 469.8,347.4 475.6,349.1 481.4,347.7 487.2,345.9 493.0,350.1 498.8,357.6 504.6,354.5 510.4,351.3 516.2,361.3 522.0,342.6 527.8,344.2 533.6,338.5 539.4,340.0 545.2,342.5 551.0,342.1 556.8,349.3 562.6,343.1 568.4,340.2 574.2,349.6 580.0,350.0 585.8,355.9 591.6,357.2 597.4,354.2 603.2,361.6 609.0,354.8 614.8,358.1 620.6,350.2 626.4,353.3 632.2,351.4 638.0,353.0 643.8,359.0 649.6,357.9 655.4,356.0 661.2,361.4 667.0,354.8 672.8,354.4 678.6,354.6 684.4,356.6 690.2,357.2 696.0,354.1 701.8,348.2 707.6,350.3 713.4,344.5 719.2,345.0 725.0,352.1 730.8,348.7 736.6,348.9 742.4,347.7 748.2,349.1 754.0,345.0 759.8,352.4 765.6,356.7 771.4,354.5 777.2,346.2 783.0,347.6 788.8,351.0 794.6,347.9 800.4,346.4 806.2,349.3 812.0,351.8 817.8,353.3 823.6,351.1 829.4,350.5 835.2,351.8 841.0,354.9 846.8,356.3 852.6,356.9 858.4,358.2 864.2,348.8 870.0,360.6 875.8,356.6 881.6,361.1 887.4,354.8 893.2,344.1 899.0,347.7 904.8,348.1 910.6,337.5 916.4,344.9 922.2,350.2 928.0,347.3 933.8,351.3 939.6,353.3 945.4,350.9 951.2,350.6 957.0,352.7 962.8,351.9 968.6,348.0 974.4,351.7 980.2,345.4 986.0,344.1 991.8,342.2 997.6,342.0 1003.4,343.5 1009.2,340.3 1015.0,346.7 1020.8,353.2 1026.6,348.9 1032.4,353.0 1038.2,354.8 1044.0,353.9 1049.8,350.1 1055.6,346.8 1061.4,352.6 1067.2,347.8 1073.0,348.6 1078.8,350.3 1084.6,345.2 1090.4,340.6 1096.2,345.6 1102.0,349.2 1107.8,343.0 1113.6,344.2 1119.4,357.7 1125.2,349.4 1131.0,346.3 1136.8,348.8 1142.6,352.8 1148.4,350.6 1154.2,348.8 1160.0,340.9 1165.8,353.6 1171.6,351.1 1177.4,348.9 1183.2,350.2 1189.0,352.6 1194.8,363.0 1200.6,360.5 1206.4,357.5 1212.2,348.0 1218.0,347.1 1223.8,348.5 1229.6,353.4 1235.4,349.9 1241.2,347.2 1247.0,344.9 1252.8,349.8 1258.6,347.7 1264.4,347.8 1270.2,347.5 1276.0,348.1 1281.8,343.4" fill="none" stroke="#2e9ad0" stroke-width="3.3" stroke-linejoin="round"/>
<polyline points="139.2,351.3 145.3,355.7 151.4,352.8 157.5,349.4 163.6,340.2 169.7,341.3 175.8,343.9 181.9,345.5 188.0,349.9 194.1,349.6 200.2,351.9 206.3,353.4 212.4,358.4 218.5,356.8 224.6,359.6 230.7,356.5 236.8,354.4 242.9,352.5 249.0,354.3 255.1,353.9 261.2,349.8 267.3,355.2 273.4,361.5 279.5,364.6 285.6,363.0 291.7,363.2 297.8,361.7 303.9,345.6 310.0,347.6 316.1,347.4 322.2,342.6 328.3,332.9 334.4,341.1 340.5,343.2 346.6,347.9 352.7,343.2 358.8,346.6 364.9,355.3 371.0,353.8 377.1,351.7 383.2,355.9 389.3,355.6 395.4,352.3 401.5,351.4 407.6,352.9 413.7,355.1 419.8,355.5 425.9,355.1 432.0,355.3 438.1,357.9 444.2,356.5 450.3,353.4 456.4,356.0 462.5,359.1 468.6,360.4 474.7,357.6 480.8,351.2 486.9,352.5 493.0,355.7 499.1,360.6 505.2,362.7 511.3,355.3 517.4,355.9 523.5,344.2 529.6,348.0 535.7,348.7 541.8,349.9 547.9,351.1 554.0,359.4 560.1,356.2 566.2,353.3 572.3,352.6 578.4,355.1 584.5,360.3 590.6,360.5 596.7,359.9 602.8,357.3 608.9,360.1 615.0,363.2 621.1,363.9 627.2,365.5 633.3,363.4 639.4,367.4 645.5,370.8 651.6,367.0 657.7,356.8 663.8,354.8 669.9,352.4 676.0,355.9 682.1,351.3 688.2,353.9 694.3,348.7 700.4,342.1 706.5,343.2 712.6,346.1 718.7,344.3 724.8,343.3 730.9,347.2 737.0,348.7 743.1,356.5 749.2,354.1 755.3,350.4 761.4,353.2 767.5,351.1 773.6,357.7 779.7,358.2 785.8,357.0 791.9,354.9 798.0,351.1 804.1,356.0 810.2,361.0 816.3,359.1 822.4,354.8 828.5,355.3 834.6,356.9 840.7,358.9 846.8,357.2 852.9,352.8 859.0,350.6 865.1,354.5 871.2,361.0 877.3,363.1 883.4,363.3 889.5,368.5 895.6,366.2 901.7,362.1 907.8,359.3 913.9,358.3 920.0,363.5 926.1,366.5 932.2,360.9 938.3,356.0 944.4,354.6 950.5,354.0 956.6,359.4 962.7,358.4 968.8,360.7 974.9,362.5 981.0,360.6 987.1,356.9 993.2,363.7 999.3,364.7 1005.4,360.6 1011.5,367.8 1017.6,357.2 1023.7,355.2 1029.8,348.7 1035.9,351.6 1042.0,356.4 1048.1,356.1 1054.2,357.3 1060.3,355.3 1066.4,355.1 1072.5,350.0 1078.6,349.8 1084.7,356.8 1090.8,359.1 1096.9,359.5 1103.0,355.3 1109.1,354.5 1115.2,360.0 1121.3,357.9 1127.4,356.7 1133.5,345.0 1139.6,347.7 1145.7,349.4 1151.8,342.7 1157.9,345.2 1164.0,349.4 1170.1,348.8 1176.2,352.2 1182.3,352.3 1188.4,357.8 1194.5,358.9 1200.6,357.7 1206.7,353.5 1212.8,348.9 1218.9,352.0 1225.0,352.0 1231.1,353.9 1237.2,356.2 1243.3,359.2 1249.4,355.2 1255.5,354.7 1261.6,361.0 1267.7,363.9 1273.8,365.9 1279.9,361.1 1286.0,364.0" fill="none" stroke="#85c5e6" stroke-width="3.3" stroke-linejoin="round"/>
<polyline points="139.1,372.1 145.5,374.1 151.9,370.8 158.3,370.9 164.7,369.5 171.1,369.6 177.5,367.8 183.9,365.2 190.3,367.9 196.7,369.4 203.1,370.1 209.5,370.4 215.9,371.0 222.3,373.7 228.7,376.9 235.1,378.9 241.5,374.5 247.9,370.5 254.3,371.5 260.7,369.0 267.1,368.3 273.5,365.5 279.9,368.2 286.3,371.1 292.7,374.5 299.1,366.4 305.5,368.1 311.9,374.1 318.3,374.7 324.7,371.6 331.1,370.0 337.5,370.8 343.9,369.8 350.3,372.6 356.7,370.1 363.1,370.2 369.5,366.5 375.9,369.5 382.3,367.1 388.7,369.1 395.1,367.0 401.5,369.0 407.9,370.0 414.3,371.2 420.7,372.8 427.1,374.3 433.5,371.5 439.9,376.1 446.3,375.8 452.7,377.4 459.1,376.8 465.5,374.6 471.9,378.0 478.3,377.5 484.7,375.4 491.1,370.6 497.5,370.2 503.9,371.7 510.3,373.0 516.7,375.0 523.1,373.2 529.5,371.5 535.9,371.4 542.3,372.9 548.7,368.7 555.1,367.9 561.5,368.1 567.9,368.7 574.3,369.9 580.7,366.2 587.1,367.2 593.5,363.8 599.9,364.4 606.3,369.5 612.7,374.6 619.1,373.6 625.5,369.8 631.9,369.2 638.3,371.0 644.7,370.2 651.1,362.8 657.5,365.5 663.9,367.7 670.3,369.9 676.7,369.9 683.1,372.4 689.5,370.1 695.9,372.5 702.3,370.1 708.7,371.3 715.1,372.4 721.5,372.3 727.9,369.5 734.3,368.6 740.7,372.7 747.1,374.8 753.5,376.0 759.9,374.8 766.3,375.6 772.7,374.3 779.1,375.2 785.5,373.2 791.9,370.4 798.3,375.1 804.7,373.8 811.1,371.1 817.5,367.1 823.9,366.5 830.3,370.0 836.7,372.8 843.1,372.3 849.5,373.6 855.9,373.8 862.3,370.2 868.7,372.4 875.1,371.1 881.5,368.9 887.9,370.6 894.3,371.2 900.7,371.1 907.1,369.6 913.5,368.3 919.9,373.7 926.3,375.7 932.7,374.7 939.1,374.5 945.5,374.6 951.9,373.1 958.3,371.2 964.7,372.1 971.1,368.1 977.5,364.3 983.9,369.8 990.3,371.2 996.7,378.4 1003.1,379.0 1009.5,374.7 1015.9,374.4 1022.3,375.9 1028.7,377.8 1035.1,375.2 1041.5,377.8 1047.9,378.7 1054.3,377.2 1060.7,376.4 1067.1,376.0 1073.5,371.8 1079.9,370.1 1086.3,372.1 1092.7,373.1 1099.1,372.7 1105.5,374.3 1111.9,373.8 1118.3,374.0 1124.7,379.1 1131.1,372.3 1137.5,370.3 1143.9,372.7 1150.3,375.6 1156.7,371.7 1163.1,369.3 1169.5,365.6 1175.9,367.1 1182.3,369.5 1188.7,367.9 1195.1,369.2 1201.5,370.1 1207.9,367.2 1214.3,370.3 1220.7,372.0 1227.1,373.7 1233.5,373.6 1239.9,375.2 1246.3,375.7 1252.7,371.8 1259.1,374.6 1265.5,375.2 1271.9,370.3 1278.3,370.1 1284.7,369.2" fill="none" stroke="#eab915" stroke-width="3.3" stroke-linejoin="round"/>
<polyline points="139.4,350.4 145.2,353.2 151.0,349.3 156.8,346.0 162.6,347.1 168.4,352.1 174.2,357.3 180.0,352.7 185.8,354.6 191.6,351.2 197.4,350.8 203.2,352.6 209.0,346.8 214.8,352.3 220.6,350.7 226.4,352.4 232.2,352.3 238.0,349.7 243.8,347.7 249.6,343.0 255.4,353.2 261.2,357.1 267.0,361.0 272.8,359.3 278.6,356.6 284.4,356.9 290.2,355.6 296.0,348.7 301.8,345.3 307.6,349.1 313.4,342.3 319.2,344.1 325.0,349.9 330.8,353.3 336.6,354.5 342.4,353.5 348.2,356.2 354.0,347.1 359.8,349.1 365.6,349.9 371.4,357.7 377.2,365.0 383.0,364.2 388.8,363.9 394.6,365.7 400.4,360.8 406.2,362.1 412.0,362.7 417.8,354.3 423.6,359.1 429.4,357.1 435.2,362.7 441.0,361.5 446.8,362.2 452.6,363.2 458.4,360.9 464.2,357.0 470.0,348.2 475.8,349.8 481.6,345.1 487.4,346.5 493.2,352.6 499.0,351.4 504.8,352.5 510.6,357.0 516.4,361.3 522.2,355.3 528.0,349.9 533.8,347.3 539.6,343.8 545.4,344.8 551.2,353.1 557.0,357.1 562.8,357.5 568.6,353.3 574.4,353.2 580.2,354.5 586.0,353.6 591.8,345.7 597.6,344.4 603.4,349.5 609.2,355.6 615.0,358.4 620.8,364.6 626.6,364.8 632.4,365.2 638.2,370.0 644.0,359.8 649.8,356.7 655.6,357.1 661.4,354.6 667.2,359.8 673.0,361.8 678.8,355.4 684.6,356.6 690.4,350.5 696.2,356.7 702.0,350.0 707.8,342.5 713.6,342.1 719.4,338.8 725.2,344.2 731.0,348.1 736.8,343.8 742.6,343.1 748.4,343.2 754.2,348.7 760.0,347.1 765.8,349.9 771.6,350.2 777.4,354.5 783.2,354.1 789.0,353.6 794.8,351.5 800.6,352.3 806.4,352.9 812.2,352.7 818.0,353.9 823.8,351.6 829.6,355.3 835.4,352.8 841.2,351.1 847.0,353.8 852.8,354.6 858.6,355.5 864.4,355.8 870.2,357.6 876.0,351.7 881.8,351.8 887.6,354.9 893.4,362.6 899.2,355.8 905.0,356.6 910.8,354.8 916.6,355.0 922.4,348.1 928.2,353.5 934.0,349.9 939.8,347.1 945.6,351.7 951.4,351.7 957.2,349.1 963.0,345.9 968.8,332.4 974.6,349.6 980.4,360.5 986.2,363.9 992.0,365.6 997.8,361.1 1003.6,363.6 1009.4,359.5 1015.2,353.4 1021.0,354.5 1026.8,352.5 1032.6,356.8 1038.4,353.9 1044.2,351.2 1050.0,352.0 1055.8,349.0 1061.6,352.2 1067.4,356.1 1073.2,353.1 1079.0,355.4 1084.8,359.7 1090.6,362.5 1096.4,357.9 1102.2,358.3 1108.0,352.2 1113.8,358.4 1119.6,355.1 1125.4,358.4 1131.2,346.3 1137.0,346.3 1142.8,344.0 1148.6,347.0 1154.4,348.7 1160.2,347.3 1166.0,346.4 1171.8,348.2 1177.6,356.9 1183.4,344.3 1189.2,337.9 1195.0,344.5 1200.8,351.8 1206.6,349.3 1212.4,348.4 1218.2,349.0 1224.0,352.5 1229.8,353.7 1235.6,352.1 1241.4,350.9 1247.2,353.6 1253.0,354.0 1258.8,350.0 1264.6,352.6 1270.4,354.6 1276.2,359.0 1282.0,360.2" fill="none" stroke="#9e88ca" stroke-width="3.3" stroke-linejoin="round"/>
<polyline points="139.4,356.8 145.5,357.3 151.6,354.3 157.7,356.0 163.8,363.3 169.9,362.6 176.0,360.4 182.1,366.0 188.2,366.5 194.3,368.7 200.4,368.4 206.5,372.1 212.6,368.9 218.7,361.5 224.8,366.4 230.9,357.4 237.0,343.6 243.1,347.3 249.2,360.5 255.3,364.4 261.4,362.5 267.5,366.5 273.6,369.1 279.7,369.7 285.8,367.9 291.9,361.3 298.0,350.2 304.1,352.1 310.2,349.6 316.3,350.9 322.4,349.6 328.5,350.2 334.6,353.7 340.7,353.1 346.8,354.1 352.9,359.7 359.0,357.9 365.1,359.5 371.2,363.1 377.3,359.5 383.4,359.6 389.5,363.7 395.6,362.1 401.7,359.5 407.8,368.3 413.9,370.5 420.0,372.3 426.1,375.1 432.2,370.6 438.3,372.1 444.4,376.1 450.5,373.0 456.6,371.2 462.7,372.5 468.8,368.3 474.9,362.6 481.0,364.0 487.1,361.9 493.2,362.8 499.3,358.7 505.4,365.1 511.5,371.0 517.6,372.3 523.7,364.7 529.8,361.7 535.9,362.2 542.0,369.5 548.1,371.7 554.2,369.3 560.3,365.3 566.4,363.6 572.5,362.7 578.6,363.0 584.7,366.2 590.8,362.7 596.9,368.5 603.0,364.5 609.1,364.1 615.2,364.6 621.3,362.3 627.4,361.0 633.5,361.9 639.6,364.7 645.7,361.9 651.8,371.9 657.9,371.6 664.0,368.3 670.1,366.2 676.2,363.7 682.3,365.6 688.4,368.1 694.5,367.8 700.6,352.5 706.7,358.8 712.8,360.2 718.9,360.6 725.0,363.9 731.1,359.4 737.2,362.3 743.3,363.2 749.4,363.9 755.5,363.0 761.6,368.1 767.7,363.6 773.8,366.7 779.9,364.0 786.0,362.1 792.1,358.9 798.2,363.4 804.3,362.4 810.4,362.8 816.5,366.1 822.6,361.7 828.7,360.6 834.8,362.0 840.9,364.0 847.0,368.0 853.1,361.6 859.2,365.9 865.3,365.8 871.4,363.8 877.5,362.3 883.6,369.1 889.7,371.6 895.8,374.0 901.9,378.4 908.0,375.4 914.1,371.7 920.2,371.3 926.3,366.9 932.4,365.1 938.5,364.6 944.6,359.0 950.7,364.4 956.8,363.7 962.9,363.1 969.0,361.8 975.1,363.0 981.2,364.3 987.3,362.4 993.4,363.0 999.5,362.8 1005.6,368.8 1011.7,366.4 1017.8,362.6 1023.9,361.8 1030.0,359.0 1036.1,356.7 1042.2,353.8 1048.3,360.9 1054.4,363.8 1060.5,364.6 1066.6,365.0 1072.7,366.2 1078.8,365.4 1084.9,367.9 1091.0,365.0 1097.1,366.7 1103.2,366.4 1109.3,369.7 1115.4,368.1 1121.5,363.5 1127.6,365.6 1133.7,357.6 1139.8,362.1 1145.9,362.8 1152.0,363.3 1158.1,365.7 1164.2,366.4 1170.3,366.9 1176.4,368.4 1182.5,367.6 1188.6,366.5 1194.7,368.3 1200.8,368.1 1206.9,359.5 1213.0,361.1 1219.1,357.4 1225.2,358.6 1231.3,358.3 1237.4,357.7 1243.5,361.4 1249.6,361.8 1255.7,359.8 1261.8,358.9 1267.9,365.4 1274.0,362.0 1280.1,365.2 1286.2,367.1" fill="none" stroke="#9e88ca" stroke-width="3.3" stroke-linejoin="round"/>
<polyline points="139.4,345.4 145.5,344.7 151.6,350.6 157.7,349.9 163.8,353.0 169.9,354.6 176.0,354.9 182.1,351.0 188.2,353.4 194.3,349.7 200.4,343.1 206.5,348.5 212.6,352.1 218.7,350.3 224.8,355.3 230.9,359.8 237.0,362.9 243.1,361.4 249.2,357.1 255.3,358.3 261.4,358.2 267.5,358.3 273.6,360.6 279.7,358.4 285.8,355.7 291.9,353.2 298.0,335.4 304.1,332.5 310.2,338.5 316.3,337.6 322.4,342.8 328.5,342.5 334.6,346.0 340.7,350.6 346.8,344.3 352.9,345.4 359.0,341.7 365.1,344.7 371.2,346.4 377.3,352.6 383.4,354.2 389.5,350.7 395.6,353.1 401.7,352.1 407.8,352.9 413.9,349.1 420.0,353.2 426.1,352.4 432.2,356.5 438.3,361.5 444.4,362.7 450.5,359.9 456.6,356.4 462.7,355.8 468.8,362.0 474.9,359.2 481.0,353.9 487.1,356.9 493.2,356.4 499.3,354.5 505.4,356.7 511.5,355.5 517.6,358.5 523.7,342.9 529.8,337.7 535.9,339.8 542.0,341.1 548.1,340.5 554.2,342.5 560.3,342.9 566.4,344.8 572.5,344.4 578.6,347.4 584.7,349.2 590.8,352.3 596.9,352.2 603.0,352.6 609.1,347.4 615.2,344.1 621.3,349.8 627.4,350.9 633.5,347.9 639.6,348.6 645.7,351.2 651.8,350.5 657.9,356.4 664.0,353.9 670.1,356.4 676.2,352.5 682.3,351.6 688.4,348.8 694.5,343.6 700.6,334.1 706.7,334.0 712.8,339.7 718.9,345.3 725.0,345.7 731.1,346.8 737.2,351.9 743.3,352.4 749.4,355.5 755.5,358.6 761.6,353.9 767.7,352.7 773.8,350.6 779.9,351.8 786.0,350.9 792.1,350.6 798.2,353.9 804.3,354.3 810.4,355.4 816.5,352.0 822.6,354.5 828.7,354.6 834.8,356.1 840.9,360.3 847.0,362.2 853.1,360.3 859.2,357.3 865.3,360.5 871.4,355.1 877.5,354.9 883.6,356.0 889.7,358.8 895.8,351.3 901.9,352.6 908.0,351.9 914.1,348.8 920.2,354.9 926.3,359.5 932.4,356.4 938.5,355.9 944.6,361.6 950.7,357.6 956.8,352.0 962.9,347.8 969.0,352.5 975.1,356.3 981.2,356.3 987.3,345.8 993.4,349.8 999.5,350.0 1005.6,355.0 1011.7,349.8 1017.8,355.3 1023.9,356.8 1030.0,356.3 1036.1,357.1 1042.2,357.5 1048.3,353.5 1054.4,340.7 1060.5,351.5 1066.6,354.3 1072.7,353.4 1078.8,360.8 1084.9,361.9 1091.0,352.4 1097.1,354.4 1103.2,351.9 1109.3,352.4 1115.4,361.8 1121.5,365.3 1127.6,362.4 1133.7,349.8 1139.8,351.8 1145.9,356.6 1152.0,359.7 1158.1,355.5 1164.2,354.2 1170.3,350.8 1176.4,354.6 1182.5,359.4 1188.6,355.4 1194.7,357.2 1200.8,356.4 1206.9,350.7 1213.0,345.9 1219.1,349.6 1225.2,352.9 1231.3,341.9 1237.4,344.4 1243.5,345.0 1249.6,346.6 1255.7,347.4 1261.8,357.3 1267.9,358.1 1274.0,359.9 1280.1,358.5 1286.2,362.1" fill="none" stroke="#85c5e6" stroke-width="3.3" stroke-linejoin="round"/>
<polyline points="139.3,376.6 145.1,374.3 150.9,374.9 156.7,375.4 162.5,376.6 168.3,377.6 174.1,377.3 179.9,378.6 185.7,380.0 191.5,379.7 197.3,381.9 203.1,381.2 208.9,380.5 214.7,378.7 220.5,378.3 226.3,379.0 232.1,379.2 237.9,378.5 243.7,378.8 249.5,379.1 255.3,375.8 261.1,378.1 266.9,376.0 272.7,376.6 278.5,378.5 284.3,379.5 290.1,379.2 295.9,379.9 301.7,372.7 307.5,374.3 313.3,374.3 319.1,375.0 324.9,373.4 330.7,372.0 336.5,373.3 342.3,371.9 348.1,372.9 353.9,374.1 359.7,375.2 365.5,379.5 371.3,380.2 377.1,378.2 382.9,379.4 388.7,376.3 394.5,376.7 400.3,376.6 406.1,378.9 411.9,379.0 417.7,380.1 423.5,380.5 429.3,378.8 435.1,380.2 440.9,382.2 446.7,380.1 452.5,376.9 458.3,377.1 464.1,377.5 469.9,379.2 475.7,379.9 481.5,379.9 487.3,378.9 493.1,382.8 498.9,382.8 504.7,382.8 510.5,382.8 516.3,382.8 522.1,375.6 527.9,378.3 533.7,379.2 539.5,377.8 545.3,373.9 551.1,373.9 556.9,373.2 562.7,373.4 568.5,375.4 574.3,376.7 580.1,377.8 585.9,377.0 591.7,376.1 597.5,376.9 603.3,379.4 609.1,377.9 614.9,379.7 620.7,382.8 626.5,381.7 632.3,382.2 638.1,382.8 643.9,382.8 649.7,382.5 655.5,382.6 661.3,382.8 667.1,380.3 672.9,381.5 678.7,378.2 684.5,380.7 690.3,379.4 696.1,376.8 701.9,370.0 707.7,367.8 713.5,370.7 719.3,373.8 725.1,372.2 730.9,372.9 736.7,374.3 742.5,373.4 748.3,373.8 754.1,374.9 759.9,376.1 765.7,376.0 771.5,378.9 777.3,380.1 783.1,380.1 788.9,382.1 794.7,381.7 800.5,380.3 806.3,377.3 812.1,378.2 817.9,379.7 823.7,381.2 829.5,382.3 835.3,377.8 841.1,380.1 846.9,379.7 852.7,380.2 858.5,380.9 864.3,380.3 870.1,380.2 875.9,380.8 881.7,379.7 887.5,381.6 893.3,382.8 899.1,382.8 904.9,382.0 910.7,382.8 916.5,382.8 922.3,382.8 928.1,382.8 933.9,382.2 939.7,380.9 945.5,378.6 951.3,380.4 957.1,379.5 962.9,378.9 968.7,380.5 974.5,380.7 980.3,382.8 986.1,381.7 991.9,382.2 997.7,382.8 1003.5,382.8 1009.3,382.7 1015.1,382.3 1020.9,381.2 1026.7,379.9 1032.5,379.4 1038.3,382.1 1044.1,382.8 1049.9,380.8 1055.7,382.3 1061.5,381.0 1067.3,380.9 1073.1,379.3 1078.9,376.7 1084.7,378.5 1090.5,378.5 1096.3,378.5 1102.1,378.0 1107.9,379.8 1113.7,381.2 1119.5,382.4 1125.3,382.8 1131.1,379.2 1136.9,376.6 1142.7,374.2 1148.5,375.1 1154.3,375.2 1160.1,376.6 1165.9,375.5 1171.7,375.9 1177.5,378.8 1183.3,378.2 1189.1,379.0 1194.9,380.9 1200.7,379.7 1206.5,376.6 1212.3,377.9 1218.1,378.4 1223.9,378.2 1229.7,377.7 1235.5,380.5 1241.3,377.8 1247.1,377.2 1252.9,375.9 1258.7,377.3 1264.5,379.4 1270.3,380.5 1276.1,379.4 1281.9,379.1" fill="none" stroke="#9e88ca" stroke-width="3.3" stroke-linejoin="round"/>
<polyline points="139.3,348.1 145.7,346.6 152.1,346.6 158.5,341.2 164.9,345.3 171.3,339.9 177.7,337.9 184.1,340.0 190.5,348.8 196.9,358.8 203.3,356.4 209.7,360.7 216.1,354.7 222.5,352.1 228.9,348.0 235.3,349.3 241.7,352.4 248.1,349.0 254.5,353.6 260.9,351.7 267.3,346.3 273.7,354.7 280.1,353.6 286.5,358.1 292.9,361.1 299.3,352.7 305.7,349.9 312.1,347.9 318.5,349.1 324.9,345.3 331.3,339.9 337.7,347.9 344.1,355.4 350.5,354.7 356.9,347.0 363.3,346.4 369.7,345.7 376.1,338.8 382.5,350.1 388.9,340.8 395.3,340.6 401.7,339.8 408.1,345.1 414.5,344.3 420.9,345.9 427.3,351.5 433.7,339.0 440.1,330.1 446.5,336.4 452.9,345.5 459.3,352.0 465.7,347.3 472.1,346.3 478.5,341.7 484.9,344.9 491.3,345.8 497.7,349.6 504.1,346.5 510.5,341.4 516.9,338.7 523.3,331.4 529.7,339.1 536.1,346.3 542.5,349.6 548.9,347.4 555.3,341.9 561.7,349.2 568.1,344.4 574.5,343.7 580.9,346.4 587.3,352.7 593.7,356.9 600.1,356.7 606.5,356.8 612.9,350.5 619.3,350.8 625.7,353.5 632.1,355.9 638.5,348.7 644.9,353.2 651.3,348.4 657.7,346.1 664.1,338.7 670.5,356.1 676.9,346.2 683.3,348.2 689.7,354.2 696.1,354.5 702.5,351.0 708.9,349.2 715.3,350.8 721.7,349.9 728.1,353.0 734.5,354.5 740.9,352.4 747.3,353.6 753.7,358.1 760.1,352.5 766.5,343.6 772.9,339.9 779.3,343.4 785.7,346.4 792.1,344.1 798.5,347.8 804.9,344.8 811.3,342.4 817.7,347.5 824.1,341.3 830.5,338.8 836.9,345.5 843.3,348.2 849.7,349.5 856.1,351.2 862.5,351.2 868.9,351.7 875.3,359.0 881.7,356.6 888.1,350.2 894.5,343.1 900.9,343.8 907.3,350.7 913.7,344.6 920.1,338.9 926.5,342.0 932.9,342.3 939.3,342.5 945.7,346.8 952.1,348.0 958.5,343.5 964.9,342.1 971.3,347.9 977.7,344.2 984.1,346.6 990.5,356.5 996.9,345.3 1003.3,351.7 1009.7,350.2 1016.1,350.4 1022.5,344.6 1028.9,336.0 1035.3,340.6 1041.7,346.5 1048.1,357.0 1054.5,351.8 1060.9,349.4 1067.3,346.0 1073.7,351.0 1080.1,348.5 1086.5,342.0 1092.9,344.7 1099.3,343.1 1105.7,336.8 1112.1,344.2 1118.5,351.3 1124.9,351.0 1131.3,346.7 1137.7,346.6 1144.1,340.2 1150.5,340.7 1156.9,345.6 1163.3,341.8 1169.7,328.5 1176.1,332.9 1182.5,337.0 1188.9,340.7 1195.3,343.3 1201.7,339.7 1208.1,334.7 1214.5,338.8 1220.9,339.3 1227.3,339.1 1233.7,342.1 1240.1,344.3 1246.5,341.9 1252.9,341.1 1259.3,338.4 1265.7,349.1 1272.1,347.2 1278.5,350.8 1284.9,348.9" fill="none" stroke="#9e88ca" stroke-width="3.3" stroke-linejoin="round"/>
<polyline points="139.1,349.5 144.9,354.6 150.7,359.3 156.5,358.2 162.3,357.8 168.1,359.1 173.9,361.1 179.7,356.7 185.5,355.2 191.3,355.6 197.1,353.4 202.9,354.0 208.7,348.9 214.5,353.2 220.3,356.1 226.1,356.4 231.9,351.9 237.7,355.0 243.5,358.2 249.3,354.7 255.1,355.6 260.9,353.9 266.7,350.8 272.5,351.4 278.3,358.0 284.1,351.1 289.9,346.6 295.7,348.1 301.5,336.9 307.3,346.6 313.1,343.1 318.9,347.4 324.7,345.5 330.5,351.7 336.3,359.3 342.1,358.7 347.9,357.1 353.7,360.0 359.5,361.3 365.3,361.9 371.1,363.8 376.9,361.9 382.7,360.5 388.5,363.4 394.3,362.1 400.1,358.3 405.9,356.6 411.7,352.1 417.5,354.4 423.3,355.9 429.1,353.8 434.9,351.2 440.7,349.6 446.5,348.7 452.3,346.1 458.1,353.3 463.9,353.7 469.7,359.6 475.5,357.6 481.3,351.7 487.1,354.9 492.9,347.2 498.7,345.7 504.5,350.8 510.3,355.1 516.1,357.0 521.9,351.9 527.7,350.4 533.5,349.5 539.3,349.7 545.1,350.7 550.9,356.1 556.7,345.8 562.5,347.8 568.3,349.5 574.1,351.9 579.9,354.3 585.7,357.2 591.5,359.3 597.3,361.5 603.1,356.5 608.9,359.4 614.7,356.6 620.5,360.5 626.3,357.2 632.1,356.6 637.9,351.4 643.7,347.0 649.5,349.4 655.3,345.5 661.1,354.1 666.9,352.4 672.7,352.4 678.5,353.8 684.3,349.9 690.1,349.5 695.9,353.8 701.7,346.2 707.5,349.6 713.3,344.7 719.1,351.9 724.9,354.4 730.7,354.9 736.5,356.2 742.3,355.1 748.1,355.6 753.9,352.0 759.7,354.1 765.5,351.4 771.3,346.3 777.1,352.2 782.9,358.9 788.7,358.3 794.5,356.8 800.3,356.8 806.1,359.9 811.9,356.2 817.7,355.3 823.5,360.7 829.3,358.0 835.1,362.6 840.9,361.1 846.7,359.7 852.5,356.5 858.3,351.9 864.1,356.2 869.9,356.2 875.7,363.3 881.5,357.6 887.3,347.1 893.1,349.6 898.9,353.5 904.7,350.8 910.5,347.3 916.3,348.6 922.1,354.1 927.9,357.1 933.7,364.4 939.5,362.2 945.3,362.3 951.1,357.2 956.9,355.7 962.7,351.4 968.5,342.0 974.3,341.0 980.1,340.7 985.9,348.6 991.7,353.3 997.5,346.7 1003.3,347.4 1009.1,354.7 1014.9,352.6 1020.7,352.2 1026.5,348.3 1032.3,350.7 1038.1,347.8 1043.9,345.1 1049.7,347.4 1055.5,353.6 1061.3,357.5 1067.1,357.1 1072.9,355.8 1078.7,356.4 1084.5,357.3 1090.3,353.3 1096.1,351.6 1101.9,356.0 1107.7,354.7 1113.5,358.9 1119.3,360.2 1125.1,361.2 1130.9,360.8 1136.7,354.3 1142.5,351.6 1148.3,355.7 1154.1,352.7 1159.9,349.0 1165.7,355.5 1171.5,357.2 1177.3,353.9 1183.1,351.5 1188.9,351.0 1194.7,356.7 1200.5,361.5 1206.3,355.3 1212.1,352.1 1217.9,353.5 1223.7,355.8 1229.5,355.4 1235.3,351.9 1241.1,349.4 1246.9,355.6 1252.7,357.4 1258.5,349.4 1264.3,350.5 1270.1,351.5 1275.9,358.0 1281.7,355.0" fill="none" stroke="#f3c829" stroke-width="3.3" stroke-linejoin="round"/>
<polyline points="139.2,356.1 145.6,350.7 152.0,350.2 158.4,354.1 164.8,358.6 171.2,359.7 177.6,361.6 184.0,366.0 190.4,364.6 196.8,364.7 203.2,372.7 209.6,370.4 216.0,363.8 222.4,362.9 228.8,364.0 235.2,362.6 241.6,365.2 248.0,356.8 254.4,357.9 260.8,355.9 267.2,357.0 273.6,359.9 280.0,356.5 286.4,357.9 292.8,360.0 299.2,348.0 305.6,346.1 312.0,352.5 318.4,354.5 324.8,355.5 331.2,353.0 337.6,354.5 344.0,350.7 350.4,352.2 356.8,350.1 363.2,354.4 369.6,361.3 376.0,365.1 382.4,365.8 388.8,362.8 395.2,352.0 401.6,356.7 408.0,353.7 414.4,351.7 420.8,354.8 427.2,359.5 433.6,360.7 440.0,360.7 446.4,360.7 452.8,362.5 459.2,359.7 465.6,365.5 472.0,363.2 478.4,363.3 484.8,362.7 491.2,364.0 497.6,359.0 504.0,356.2 510.4,355.0 516.8,353.3 523.2,343.7 529.6,347.7 536.0,356.3 542.4,353.3 548.8,360.6 555.2,366.7 561.6,365.5 568.0,366.8 574.4,358.2 580.8,356.9 587.2,358.0 593.6,360.7 600.0,361.9 606.4,364.4 612.8,365.6 619.2,364.2 625.6,361.0 632.0,360.1 638.4,362.1 644.8,367.2 651.2,361.8 657.6,367.8 664.0,366.4 670.4,367.8 676.8,365.6 683.2,363.8 689.6,352.3 696.0,357.4 702.4,349.4 708.8,354.9 715.2,350.0 721.6,357.6 728.0,361.0 734.4,358.3 740.8,357.4 747.2,357.6 753.6,355.8 760.0,361.0 766.4,361.4 772.8,359.8 779.2,356.1 785.6,356.0 792.0,358.6 798.4,358.9 804.8,358.9 811.2,362.6 817.6,360.7 824.0,357.8 830.4,362.0 836.8,359.4 843.2,364.3 849.6,362.9 856.0,363.3 862.4,359.5 868.8,358.4 875.2,360.4 881.6,364.3 888.0,362.1 894.4,365.2 900.8,363.6 907.2,368.6 913.6,372.2 920.0,367.4 926.4,363.3 932.8,363.1 939.2,363.0 945.6,364.1 952.0,366.6 958.4,370.6 964.8,368.5 971.2,366.9 977.6,364.5 984.0,370.1 990.4,375.2 996.8,378.7 1003.2,371.9 1009.6,374.0 1016.0,371.1 1022.4,371.5 1028.8,373.6 1035.2,373.2 1041.6,374.1 1048.0,371.3 1054.4,371.2 1060.8,365.5 1067.2,367.7 1073.6,370.8 1080.0,368.5 1086.4,368.1 1092.8,364.6 1099.2,362.3 1105.6,363.6 1112.0,366.1 1118.4,361.8 1124.8,363.6 1131.2,354.6 1137.6,356.1 1144.0,351.2 1150.4,351.1 1156.8,350.8 1163.2,352.6 1169.6,354.3 1176.0,353.2 1182.4,356.5 1188.8,359.8 1195.2,360.9 1201.6,359.9 1208.0,350.0 1214.4,345.7 1220.8,352.9 1227.2,358.1 1233.6,356.6 1240.0,357.0 1246.4,352.7 1252.8,354.2 1259.2,355.1 1265.6,356.1 1272.0,353.3 1278.4,353.9 1284.8,359.2" fill="none" stroke="#eab915" stroke-width="3.3" stroke-linejoin="round"/>
<polyline points="139.1,340.4 144.9,333.8 150.7,337.9 156.5,346.5 162.3,348.0 168.1,340.4 173.9,344.0 179.7,351.3 185.5,352.2 191.3,355.8 197.1,357.6 202.9,352.8 208.7,357.2 214.5,350.3 220.3,349.6 226.1,352.1 231.9,339.6 237.7,335.6 243.5,339.2 249.3,338.0 255.1,333.9 260.9,334.9 266.7,332.5 272.5,327.0 278.3,340.2 284.1,336.1 289.9,333.8 295.7,339.4 301.5,318.2 307.3,318.1 313.1,313.1 318.9,315.7 324.7,318.8 330.5,323.3 336.3,319.4 342.1,313.3 347.9,321.3 353.7,313.2 359.5,313.0 365.3,326.5 371.1,329.3 376.9,322.5 382.7,328.5 388.5,340.0 394.3,339.1 400.1,342.8 405.9,346.4 411.7,346.0 417.5,343.8 423.3,353.6 429.1,356.8 434.9,353.7 440.7,353.1 446.5,342.4 452.3,346.9 458.1,347.7 463.9,352.6 469.7,349.6 475.5,342.9 481.3,340.6 487.1,338.0 492.9,344.5 498.7,343.6 504.5,342.6 510.3,345.0 516.1,341.9 521.9,338.5 527.7,335.4 533.5,330.4 539.3,327.7 545.1,327.9 550.9,336.6 556.7,332.1 562.5,330.7 568.3,331.2 574.1,339.0 579.9,344.1 585.7,345.3 591.5,347.1 597.3,341.2 603.1,339.8 608.9,338.2 614.7,341.9 620.5,343.2 626.3,341.8 632.1,345.9 637.9,343.0 643.7,337.1 649.5,346.0 655.3,352.7 661.1,357.0 666.9,358.9 672.7,357.1 678.5,363.2 684.3,359.1 690.1,360.4 695.9,349.9 701.7,336.7 707.5,335.4 713.3,330.1 719.1,336.6 724.9,341.7 730.7,337.8 736.5,340.3 742.3,335.8 748.1,338.5 753.9,328.2 759.7,327.9 765.5,335.4 771.3,351.2 777.1,359.1 782.9,357.6 788.7,357.7 794.5,349.9 800.3,342.0 806.1,348.1 811.9,349.0 817.7,346.3 823.5,345.6 829.3,341.5 835.1,335.1 840.9,343.5 846.7,348.4 852.5,350.4 858.3,351.6 864.1,353.1 869.9,347.7 875.7,351.8 881.5,347.2 887.3,340.0 893.1,338.7 898.9,334.2 904.7,341.2 910.5,343.5 916.3,340.3 922.1,343.6 927.9,344.5 933.7,362.1 939.5,362.6 945.3,353.3 951.1,347.4 956.9,346.2 962.7,345.1 968.5,346.8 974.3,343.8 980.1,350.2 985.9,341.9 991.7,341.9 997.5,341.1 1003.3,344.2 1009.1,342.1 1014.9,338.4 1020.7,336.3 1026.5,334.0 1032.3,330.9 1038.1,328.8 1043.9,334.8 1049.7,341.8 1055.5,342.7 1061.3,334.8 1067.1,344.2 1072.9,351.8 1078.7,351.8 1084.5,341.4 1090.3,348.6 1096.1,348.6 1101.9,352.6 1107.7,348.6 1113.5,347.2 1119.3,347.3 1125.1,347.4 1130.9,339.9 1136.7,335.7 1142.5,339.1 1148.3,340.3 1154.1,335.5 1159.9,335.2 1165.7,336.2 1171.5,333.3 1177.3,328.7 1183.1,329.5 1188.9,317.6 1194.7,324.9 1200.5,341.1 1206.3,332.5 1212.1,336.3 1217.9,348.1 1223.7,342.0 1229.5,342.6 1235.3,341.8 1241.1,348.3 1246.9,355.6 1252.7,354.2 1258.5,348.6 1264.3,348.4 1270.1,344.9 1275.9,341.4 1281.7,350.7" fill="none" stroke="#9e88ca" stroke-width="3.3" stroke-linejoin="round"/>
<polyline points="139.0,335.0 147.9,319.0 156.9,277.0 165.8,303.0 174.8,328.0 185.0,340.0 195.0,345.0" fill="none" stroke="#9e88ca" stroke-width="3.3" stroke-linejoin="round"/>
<polyline points="232.0,340.0 240.0,318.0 247.0,288.0 255.0,310.0 265.0,326.0 278.0,335.0 282.6,323.7 290.0,338.0" fill="none" stroke="#9e88ca" stroke-width="3.3" stroke-linejoin="round"/>
<polyline points="462.0,352.0 471.0,330.0 477.0,279.5 484.0,305.0 490.2,323.0 500.0,335.0" fill="none" stroke="#85c5e6" stroke-width="3.3" stroke-linejoin="round"/>
<polyline points="676.0,335.0 683.0,310.0 689.9,255.7 696.0,290.0 703.0,300.0 712.0,320.0" fill="none" stroke="#9e88ca" stroke-width="3.3" stroke-linejoin="round"/>
<polyline points="815.0,340.0 820.0,337.0 824.4,275.1 832.0,292.0 839.6,306.7 848.0,320.0 858.0,335.0" fill="none" stroke="#9e88ca" stroke-width="3.3" stroke-linejoin="round"/>
<polyline points="834.0,338.0 838.0,330.0 842.9,300.2 847.0,330.0 852.0,338.0" fill="none" stroke="#85c5e6" stroke-width="3.3" stroke-linejoin="round"/>
<polyline points="1075.0,340.0 1082.0,330.0 1086.6,312.4 1092.0,325.0 1100.0,338.0" fill="none" stroke="#9e88ca" stroke-width="3.3" stroke-linejoin="round"/>
<polyline points="1140.0,345.0 1147.0,330.0 1152.0,299.3 1158.0,320.0 1166.0,335.0 1175.0,342.0" fill="none" stroke="#9e88ca" stroke-width="3.3" stroke-linejoin="round"/>
<polyline points="1262.0,340.0 1270.0,330.0 1276.5,314.5 1282.0,325.0 1287.0,335.0" fill="none" stroke="#9e88ca" stroke-width="3.3" stroke-linejoin="round"/>
<polyline points="530.0,345.0 540.0,330.0 546.6,314.3 555.0,315.3 562.0,332.0 572.0,340.0" fill="none" stroke="#9e88ca" stroke-width="3.3" stroke-linejoin="round"/>
<polyline points="139.0,350.0 150.0,346.0 160.0,352.0 172.0,348.0 185.0,355.0 196.0,350.0 206.0,356.0 214.0,340.0 222.0,330.0 232.0,338.0 244.0,344.0 256.0,342.0 268.0,350.0 280.0,352.0 292.0,356.0 299.5,328.0 303.7,311.0 312.0,318.0 324.8,328.0 333.0,336.0 342.0,332.0 350.0,341.0 362.0,333.0 374.0,342.0 386.0,346.0 398.0,350.0 410.0,345.0 422.0,354.0 434.0,350.0 446.0,340.0 458.0,350.0 470.0,348.0 482.0,352.0 494.0,346.0 506.0,338.0 518.0,342.0 530.0,346.0 542.0,341.0 554.0,346.0 567.6,322.7 578.0,333.0 593.0,333.3 603.0,326.0 614.0,330.0 626.0,338.0 638.0,342.0 650.0,340.0 662.0,345.0 674.0,340.0 686.0,330.0 698.0,335.0 708.0,340.0 716.0,318.0 724.0,330.0 734.0,334.0 748.0,322.0 760.0,338.0 772.0,346.0 786.0,352.0 798.0,344.0 810.0,340.0 822.0,346.0 834.0,348.0 846.0,340.0 858.0,344.0 870.0,336.0 882.0,330.0 894.0,334.0 906.0,344.0 918.0,338.0 930.0,342.0 942.0,350.0 954.0,352.0 966.0,345.0 978.0,348.0 990.0,342.0 1004.0,338.0 1016.8,342.9 1029.9,351.6 1040.8,358.2 1050.0,352.0 1058.3,347.3 1068.0,348.0 1077.9,325.5 1088.0,340.0 1099.7,342.9 1110.0,343.0 1120.0,340.0 1134.6,332.0 1146.0,340.0 1160.8,347.3 1172.0,350.0 1185.0,346.0 1196.0,349.0 1208.8,351.6 1220.0,350.0 1235.0,351.6 1246.0,350.0 1256.8,347.3 1270.0,340.7 1278.7,345.1 1287.0,342.0" fill="none" stroke="#2e9ad0" stroke-width="3.3" stroke-linejoin="round"/>
<polyline points="139.2,340.6 147.7,337.5 156.0,339.6 166.6,344.8 179.3,340.6 187.7,339.6 196.2,342.7 204.6,351.2 213.0,332.2 220.4,304.8 223.6,321.6 229.0,333.0 236.2,330.0 244.7,334.3 253.1,331.1 261.6,338.5 270.0,342.7 278.4,344.8 286.9,347.0 295.3,353.3 301.6,309.0 303.7,298.4 308.0,305.8 316.4,319.5 324.8,319.5 333.3,332.2 341.7,328.0 350.1,338.5 358.6,321.6 367.0,332.2 375.5,340.6 383.9,341.7 392.3,347.0 400.8,342.7 409.2,347.0 417.6,344.8 420.0,348.0 430.5,350.0 441.0,333.3 451.6,346.0 462.2,352.3 472.7,348.0 483.3,346.0 493.8,339.6 502.3,327.0 510.7,331.2 521.2,335.4 529.7,337.5 538.1,339.6 546.6,335.4 557.1,339.6 565.5,333.3 574.0,320.6 580.3,327.0 586.6,310.0 595.1,314.3 603.5,318.5 612.0,301.6 618.3,318.5 626.7,327.0 635.1,333.3 643.6,337.5 652.0,333.3 662.6,339.6 673.1,333.3 683.7,322.7 694.2,312.2 700.0,315.5 708.7,326.4 715.3,272.9 721.8,300.2 728.4,304.5 732.7,315.5 739.0,313.0 746.9,296.9 754.5,313.3 761.0,326.4 769.8,339.5 778.5,348.2 787.3,350.4 796.0,337.3 800.4,319.8 806.9,322.0 811.3,313.3 817.8,326.4 824.4,335.1 833.1,337.3 839.6,332.9 848.4,326.4 857.1,332.9 862.6,308.9 870.2,322.0 881.1,313.3 889.8,315.5 896.4,317.6 905.1,335.1 912.7,322.0 920.4,315.5 929.1,322.0 937.8,332.9 946.6,341.6 955.3,346.0 961.8,330.7 970.6,341.6 979.3,337.3 990.2,328.6 1003.7,325.5 1011.4,322.2 1019.0,332.0 1023.4,325.5 1034.3,325.5 1041.9,314.5 1049.5,325.5 1058.3,336.4 1064.8,332.0 1073.5,334.2 1080.1,323.3 1088.8,332.0 1097.6,334.2 1106.3,325.5 1115.0,329.8 1125.9,325.5 1132.5,329.8 1137.9,306.9 1145.6,306.9 1154.3,314.5 1165.2,323.3 1171.7,323.3 1177.2,314.5 1182.6,332.0 1191.4,334.2 1200.1,332.0 1209.9,306.9 1217.6,312.4 1224.1,316.7 1235.0,321.1 1245.9,329.8 1254.7,322.2 1265.6,325.5 1278.7,329.8 1286.3,321.1" fill="none" stroke="#2e9ad0" stroke-width="3.3" stroke-linejoin="round"/>
<polyline points="139.0,336.0 150.0,332.0 162.0,338.0 175.0,342.0 188.0,340.0 200.0,345.0 206.0,318.0 212.0,330.0 220.0,318.0 228.0,312.0 236.0,322.0 246.0,326.0 254.0,318.0 262.0,328.0 272.0,334.0 284.0,340.0 296.0,338.0 302.0,310.0 310.0,305.0 320.0,312.0 332.0,325.0 345.0,318.0 356.0,330.0 370.0,326.0 385.0,334.0 400.0,338.0 412.0,342.0 425.0,346.0" fill="none" stroke="#f3c829" stroke-width="3.3" stroke-linejoin="round"/>
<polyline points="139.2,318.5 144.5,329.0 151.9,323.7 162.4,315.3 171.9,326.9 180.3,335.3 186.7,321.6 196.2,322.7 204.6,319.5 208.8,313.2 213.0,332.2 219.4,325.9 226.8,304.8 234.1,315.3 240.5,317.4 248.9,311.1 255.2,319.5 263.7,330.0 272.1,336.4 282.6,338.5 295.3,319.5 301.6,304.8 312.2,300.5 318.5,290.0 324.8,311.1 336.0,323.0 342.5,309.3 349.0,317.3 355.0,324.5 362.0,314.4 371.2,323.7 381.8,330.0 395.6,330.0 400.7,301.3 413.0,317.3 420.4,311.5 427.6,323.0 439.3,322.4 445.3,324.8 452.0,331.0 462.2,337.5 477.0,316.4 489.6,324.8 502.3,308.0 510.7,316.4 525.5,329.0 540.0,329.0 559.2,329.0 575.0,331.0 590.0,318.0 599.3,310.0 606.0,318.0 614.0,328.0 624.6,308.0 631.0,318.0 639.4,314.3 647.0,320.0 656.2,322.7 668.9,303.7 677.0,316.0 682.0,318.0 688.0,280.0 696.0,274.0 702.0,289.0 713.0,300.2 721.8,311.1 728.4,295.8 740.0,310.0 754.5,324.2 763.3,318.7 772.0,324.2 785.1,326.4 793.8,328.6 802.6,335.1 813.5,332.9 822.2,339.5 830.9,335.1 839.6,337.3 848.4,330.7 857.1,332.9 865.8,337.3 874.6,330.7 882.2,328.6 887.7,293.6 896.4,276.2 900.7,270.7 907.3,282.7 916.0,295.8 922.6,302.4 929.1,311.1 934.2,309.3 940.0,296.0 944.9,295.2 951.2,299.4 959.7,310.0 969.3,316.4 974.6,327.0 983.7,328.6 992.4,315.5 1000.0,313.3 1010.3,313.5 1016.8,318.9 1023.4,323.3 1029.9,303.6 1036.5,304.7 1045.2,318.9 1053.9,327.6 1060.5,329.8 1069.2,321.1 1077.0,323.0 1084.5,310.2 1087.7,268.7 1095.4,288.4 1101.9,305.8 1110.6,316.7 1119.4,327.6 1125.9,334.2 1130.3,353.8 1140.0,345.0 1150.0,340.0 1160.0,345.0 1172.0,338.0 1185.0,345.0 1195.0,335.0 1204.0,318.0 1212.8,293.1 1222.0,294.0 1230.0,287.0 1240.0,296.0 1251.0,305.8 1255.0,314.3 1263.7,314.3 1272.2,316.4 1279.6,311.1 1286.0,314.3" fill="none" stroke="#f3c829" stroke-width="3.3" stroke-linejoin="round"/>
<polyline points="139.3,228.0 144.6,232.0 149.9,229.8 157.4,244.8 161.7,258.6 170.3,257.8 181.6,284.5 188.4,276.7 194.5,281.0 208.3,281.0 214.3,263.8 220.3,278.4 227.2,263.8 233.3,270.7 240.2,282.8 247.1,273.3 254.0,273.3 259.1,290.5 266.0,287.0 272.1,273.3 278.1,281.0 285.0,279.3 291.0,279.3 297.9,284.5 304.0,246.6 309.1,250.9 316.0,251.7 324.7,272.4 336.0,298.4 342.5,287.5 349.0,291.1 355.6,287.5 363.6,292.5 374.5,295.5 381.8,275.1 388.4,286.7 394.2,291.1 401.5,299.8 407.3,299.8 413.8,285.3 419.6,286.0 426.2,294.7 434.9,297.6 445.1,297.6 452.4,301.3 458.2,259.8 465.5,272.2 471.3,272.9 477.1,259.1 484.4,272.2 491.6,278.7 497.5,277.3 503.3,251.8 510.5,263.5 516.4,280.9 523.1,259.5 529.3,283.6 535.6,282.7 541.9,262.1 548.1,288.1 555.3,281.0 560.7,285.4 567.8,285.4 574.1,267.5 580.4,282.7 587.5,284.5 593.8,256.8 600.0,277.4 609.9,287.2 619.7,294.4 624.2,272.9 631.4,272.9 638.5,287.2 643.9,262.1 651.1,272.9 658.2,281.0 664.5,284.5 670.8,278.3 677.0,291.7 682.9,305.4 689.9,283.5 695.9,275.6 702.0,268.0 708.8,262.6 715.8,245.7 721.7,264.6 727.7,255.7 734.7,246.7 740.6,261.6 747.6,249.7 753.6,248.7 760.5,247.7 766.5,206.9 771.5,217.9 778.5,248.7 785.4,255.7 792.9,270.5 798.9,274.5 804.9,285.4 811.8,277.5 817.8,268.5 824.8,270.5 829.8,268.5 837.7,259.6 843.7,257.6 849.7,257.6 856.6,273.5 862.6,278.5 869.6,293.4 875.5,261.5 882.5,180.0 888.5,201.8 895.4,231.7 901.4,243.6 908.4,260.5 914.3,272.5 920.3,267.5 927.3,281.4 934.2,294.4 939.5,278.2 944.9,292.0 952.3,276.1 966.0,285.6 978.8,252.8 987.3,274.0 997.9,296.3 1004.3,281.4 1010.6,295.2 1017.0,268.7 1027.6,288.8 1034.0,296.3 1044.6,300.5 1055.2,309.0 1065.8,293.1 1068.5,284.6 1074.9,261.2 1081.2,219.9 1087.6,240.0 1094.0,190.2 1100.3,214.6 1110.9,237.9 1119.4,257.0 1126.8,267.6 1132.1,237.9 1138.5,243.2 1145.9,232.6 1151.2,257.0 1157.6,264.4 1165.0,269.7 1171.4,213.5 1177.8,231.5 1184.1,253.8 1190.5,226.2 1197.9,250.6 1205.4,265.5 1211.7,278.2 1217.0,285.6 1221.3,292.0 1228.7,275.0 1234.0,282.5 1244.6,295.2 1254.2,312.2 1260.5,311.1 1266.9,281.4 1272.2,287.8 1279.6,280.3 1286.0,277.2" fill="none" stroke="#eab915" stroke-width="3.3" stroke-linejoin="round"/>
<line x1="139" y1="244.8" x2="1294" y2="244.8" stroke="#e58a88" stroke-width="3.2" stroke-dasharray="14.5 4.1" stroke-opacity="0.9"/>
<rect x="137" y="212" width="40" height="28" fill="#fff" fill-opacity="0.82"/>
<text x="150.5" y="233.3" font-size="20px" fill="#e35050" font-family="Liberation Sans, sans-serif">10</text>
<rect x="1036.2" y="148.9" width="183.8" height="133.1" fill="rgb(253,244,237)" fill-opacity="0.45"/>
<g stroke="#df158b" stroke-width="3.8" stroke-dasharray="3.8 3.62" fill="none">
<line x1="1036.2" y1="148.9" x2="1222" y2="148.9"/>
<line x1="1220" y1="150.5" x2="1220" y2="284"/>
<line x1="1036.2" y1="148.6" x2="1036.2" y2="280"/>
<line x1="1036.1" y1="282" x2="1218" y2="282"/>
</g>
</svg>
<div class="av" style="left:1036px;top:130px;width:30px;height:30px;"><svg width="30" height="30" viewBox="0 0 59 59"><defs><filter id="bls" x="-10%" y="-10%" width="120%" height="120%"><feGaussianBlur stdDeviation="0.9"/></filter><clipPath id="cps"><rect width="59" height="59"/></clipPath><linearGradient id="fgs" x1="0" y1="0" x2="0" y2="1"><stop offset="0" stop-color="#d8b2a8"/><stop offset="0.55" stop-color="#c99b8f"/><stop offset="1" stop-color="#a9786d"/></linearGradient></defs>
<g clip-path="url(#cps)"><g filter="url(#bls)">
<rect x="-3" y="-3" width="65" height="65" fill="#47474a"/>
<rect x="-3" y="-3" width="15" height="50" fill="#6d6f6d"/>
<rect x="3" y="18" width="5" height="24" fill="#464645"/>
<rect x="0" y="30" width="4" height="10" fill="#8a8c8a"/>
<rect x="11" y="3" width="6" height="14" fill="#c3d1d8"/>
<rect x="17" y="-3" width="45" height="8" fill="#4a5249"/>
<rect x="-3" y="48" width="11" height="14" fill="#5f8d50"/>
<path d="M10 60 C 9 40, 11 18, 22 8 C 32 0, 50 0, 57 8 C 62 14, 62 40, 62 60 Z" fill="#2b2526"/>
<ellipse cx="40.5" cy="31" rx="14.2" ry="19" fill="url(#fgs)"/>
<path d="M24 16 C 28 8, 40 6, 52 12 L 52 16 C 44 12, 34 12, 27 20 Z" fill="#2b2526"/>
<path d="M53 20 C 56 28, 56 40, 52 52 L 60 52 L 60 20 Z" fill="#2b2526"/>
<rect x="31" y="26" width="8" height="3.5" fill="#6d4c4a"/>
<rect x="45" y="26" width="8" height="3.5" fill="#6d4c4a"/>
<rect x="36" y="41" width="11" height="3" fill="#9c6259"/>
<path d="M26 50 C 32 56, 46 56, 54 48 L 54 60 L 26 60 Z" fill="#2d2728"/>
</g></g></svg></div>
<div class="hr2"></div>
<div class="av" style="left:81px;top:442px;"><svg width="59" height="59" viewBox="0 0 59 59"><defs><filter id="bla" x="-10%" y="-10%" width="120%" height="120%"><feGaussianBlur stdDeviation="0.9"/></filter><clipPath id="cpa"><rect width="59" height="59"/></clipPath><linearGradient id="fga" x1="0" y1="0" x2="0" y2="1"><stop offset="0" stop-color="#d8b2a8"/><stop offset="0.55" stop-color="#c99b8f"/><stop offset="1" stop-color="#a9786d"/></linearGradient></defs>
<g clip-path="url(#cpa)"><g filter="url(#bla)">
<rect x="-3" y="-3" width="65" height="65" fill="#47474a"/>
<rect x="-3" y="-3" width="15" height="50" fill="#6d6f6d"/>
<rect x="3" y="18" width="5" height="24" fill="#464645"/>
<rect x="0" y="30" width="4" height="10" fill="#8a8c8a"/>
<rect x="11" y="3" width="6" height="14" fill="#c3d1d8"/>
<rect x="17" y="-3" width="45" height="8" fill="#4a5249"/>
<rect x="-3" y="48" width="11" height="14" fill="#5f8d50"/>
<path d="M10 60 C 9 40, 11 18, 22 8 C 32 0, 50 0, 57 8 C 62 14, 62 40, 62 60 Z" fill="#2b2526"/>
<ellipse cx="40.5" cy="31" rx="14.2" ry="19" fill="url(#fga)"/>
<path d="M24 16 C 28 8, 40 6, 52 12 L 52 16 C 44 12, 34 12, 27 20 Z" fill="#2b2526"/>
<path d="M53 20 C 56 28, 56 40, 52 52 L 60 52 L 60 20 Z" fill="#2b2526"/>
<rect x="31" y="26" width="8" height="3.5" fill="#6d4c4a"/>
<rect x="45" y="26" width="8" height="3.5" fill="#6d4c4a"/>
<rect x="36" y="41" width="11" height="3" fill="#9c6259"/>
<path d="M26 50 C 32 56, 46 56, 54 48 L 54 60 L 26 60 Z" fill="#2d2728"/>
</g></g></svg></div>
<div class="c1">@flowdock–Ops system load crept up around 22:15</div>
<div class="c2">a few seconds ago</div>
<div class="hr3"></div>
<div class="av" style="left:81px;top:518px;"><svg width="59" height="59" viewBox="0 0 59 59"><defs><filter id="blb" x="-10%" y="-10%" width="120%" height="120%"><feGaussianBlur stdDeviation="0.9"/></filter><clipPath id="cpb"><rect width="59" height="59"/></clipPath><linearGradient id="fgb" x1="0" y1="0" x2="0" y2="1"><stop offset="0" stop-color="#d8b2a8"/><stop offset="0.55" stop-color="#c99b8f"/><stop offset="1" stop-color="#a9786d"/></linearGradient></defs>
<g clip-path="url(#cpb)"><g filter="url(#blb)">
<rect x="-3" y="-3" width="65" height="65" fill="#47474a"/>
<rect x="-3" y="-3" width="15" height="50" fill="#6d6f6d"/>
<rect x="3" y="18" width="5" height="24" fill="#464645"/>
<rect x="0" y="30" width="4" height="10" fill="#8a8c8a"/>
<rect x="11" y="3" width="6" height="14" fill="#c3d1d8"/>
<rect x="17" y="-3" width="45" height="8" fill="#4a5249"/>
<rect x="-3" y="48" width="11" height="14" fill="#5f8d50"/>
<path d="M10 60 C 9 40, 11 18, 22 8 C 32 0, 50 0, 57 8 C 62 14, 62 40, 62 60 Z" fill="#2b2526"/>
<ellipse cx="40.5" cy="31" rx="14.2" ry="19" fill="url(#fgb)"/>
<path d="M24 16 C 28 8, 40 6, 52 12 L 52 16 C 44 12, 34 12, 27 20 Z" fill="#2b2526"/>
<path d="M53 20 C 56 28, 56 40, 52 52 L 60 52 L 60 20 Z" fill="#2b2526"/>
<rect x="31" y="26" width="8" height="3.5" fill="#6d4c4a"/>
<rect x="45" y="26" width="8" height="3.5" fill="#6d4c4a"/>
<rect x="36" y="41" width="11" height="3" fill="#9c6259"/>
<path d="M26 50 C 32 56, 46 56, 54 48 L 54 60 L 26 60 Z" fill="#2d2728"/>
</g></g></svg></div>
<div class="ta"></div>
<div class="ph">Add a comment ..</div>
</div></body></html>
